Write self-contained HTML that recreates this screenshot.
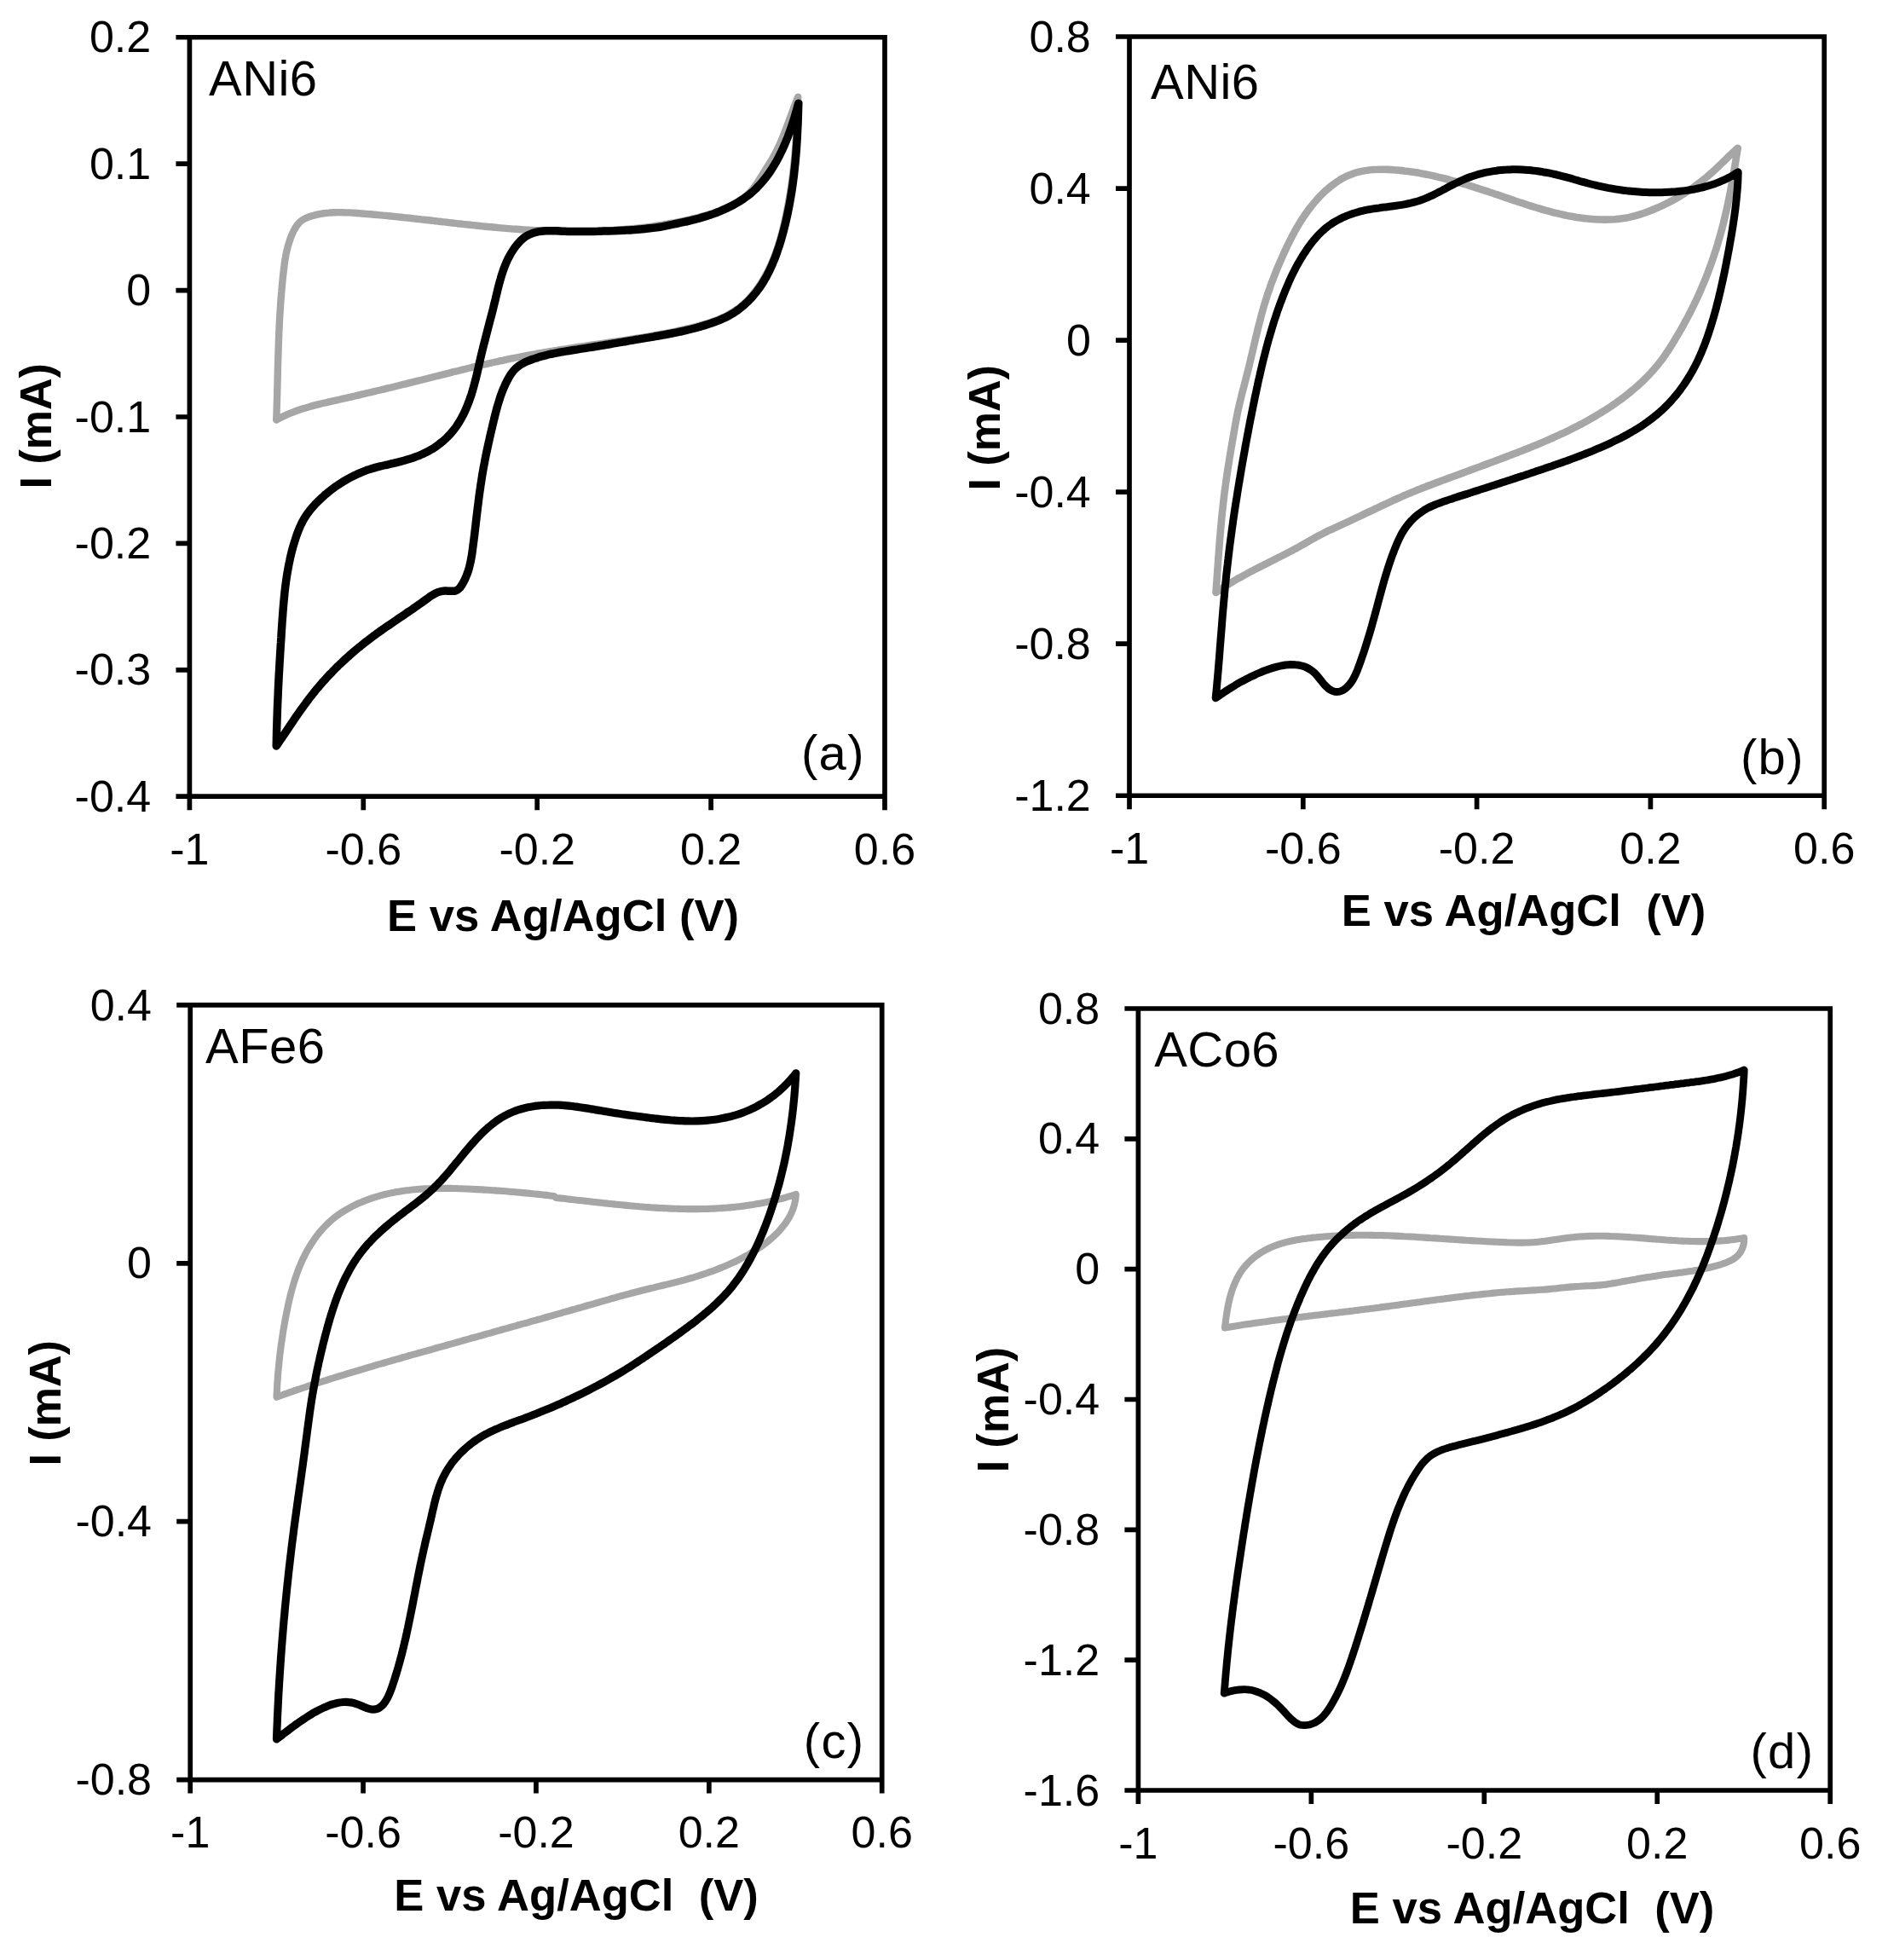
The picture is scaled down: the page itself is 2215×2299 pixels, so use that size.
<!DOCTYPE html>
<html lang="en"><head><meta charset="utf-8"><title>Cyclic voltammograms</title>
<style>html,body{margin:0;padding:0;background:#fff}svg{display:block}text{font-family:"Liberation Sans",Arial,Helvetica,sans-serif;fill:#000}.t{font-size:52px}.n{font-size:58px;letter-spacing:0.45px}.g{font-size:58px;letter-spacing:1.3px}.b{font-size:52px;font-weight:bold}.bx{font-size:52.6px;font-weight:bold}.f{fill:none;stroke:#000;stroke-width:5.7;stroke-linecap:butt}.c{fill:none;stroke-linejoin:round;stroke-linecap:round}</style></head><body>
<svg xmlns="http://www.w3.org/2000/svg" width="2215" height="2299" viewBox="0 0 2215 2299">
<rect width="2215" height="2299" fill="#fff"/>
<g id="panel-a">
<path class="c" stroke="#a6a6a6" stroke-width="8.4" d="M324.2 492.5C324.3 491.5 324.4 488.5 324.5 486.4C324.5 484.4 324.6 482.4 324.6 480.4C324.7 478.4 324.8 476.4 324.8 474.3C324.9 472.3 324.9 470.3 325.0 468.3C325.1 466.3 325.1 464.3 325.2 462.2C325.2 460.2 325.3 458.2 325.3 456.2C325.4 454.2 325.4 452.2 325.5 450.1C325.5 448.1 325.6 446.1 325.6 444.1C325.7 442.1 325.7 440.1 325.8 438.0C325.8 436.0 325.9 434.0 325.9 432.0C326.0 430.0 326.0 427.9 326.1 425.9C326.2 423.9 326.2 421.9 326.3 419.9C326.3 417.9 326.4 415.8 326.5 413.8C326.5 411.8 326.6 409.8 326.7 407.8C326.7 405.8 326.8 403.7 326.9 401.7C326.9 399.7 327.0 397.7 327.1 395.7C327.2 393.7 327.3 391.7 327.3 389.6C327.4 387.6 327.5 385.6 327.6 383.6C327.7 381.6 327.8 379.6 327.9 377.5C328.0 375.5 328.1 373.5 328.2 371.5C328.4 369.5 328.5 367.5 328.6 365.5C328.7 363.5 328.9 361.4 329.0 359.4C329.1 357.4 329.3 355.4 329.4 353.4C329.6 351.4 329.7 349.4 329.9 347.4C330.0 345.3 330.2 343.3 330.4 341.3C330.5 339.3 330.7 337.3 330.9 335.3C331.1 333.3 331.3 331.3 331.5 329.3C331.7 327.2 331.9 325.2 332.1 323.2C332.3 321.2 332.5 319.2 332.8 317.2C333.0 315.2 333.3 313.2 333.5 311.2C333.8 309.2 334.1 307.2 334.4 305.2C334.7 303.2 335.1 301.2 335.4 299.2C335.8 297.2 336.2 295.3 336.7 293.3C337.2 291.3 337.6 289.4 338.2 287.5C338.8 285.5 339.4 283.6 340.0 281.7C340.7 279.7 341.4 277.8 342.2 276.0C343.0 274.1 343.9 272.2 344.8 270.3C345.8 268.5 346.8 266.7 348.0 265.0C349.1 263.4 350.4 261.8 351.8 260.5C353.3 259.1 355.0 258.0 356.7 257.0C358.4 256.0 360.3 255.2 362.2 254.5C364.1 253.8 366.0 253.2 368.0 252.7C369.9 252.1 371.9 251.7 373.8 251.3C375.8 250.9 377.8 250.5 379.8 250.3C381.8 250.0 383.7 249.7 385.7 249.6C387.7 249.4 389.7 249.3 391.8 249.2C393.8 249.1 395.8 249.1 397.8 249.1C399.8 249.1 401.8 249.1 403.9 249.2C405.9 249.2 407.9 249.3 410.0 249.4C412.0 249.5 414.0 249.7 416.0 249.8C418.1 249.9 420.1 250.1 422.1 250.3C424.2 250.4 426.2 250.6 428.2 250.8C430.2 250.9 432.3 251.1 434.3 251.3C436.3 251.5 438.3 251.6 440.3 251.8C442.3 252.0 444.4 252.2 446.4 252.4C448.4 252.6 450.4 252.7 452.4 252.9C454.4 253.1 456.4 253.3 458.4 253.5C460.4 253.7 462.4 253.9 464.4 254.1C466.5 254.3 468.5 254.5 470.5 254.7C472.5 254.9 474.5 255.2 476.5 255.4C478.5 255.6 480.5 255.8 482.5 256.0C484.5 256.2 486.5 256.5 488.5 256.7C490.5 256.9 492.5 257.1 494.5 257.4C496.5 257.6 498.5 257.8 500.5 258.0C502.5 258.3 504.5 258.5 506.5 258.7C508.5 259.0 510.5 259.2 512.5 259.4C514.5 259.6 516.5 259.9 518.5 260.1C520.5 260.3 522.5 260.6 524.5 260.8C526.5 261.0 528.5 261.3 530.5 261.5C532.5 261.7 534.5 261.9 536.5 262.2C538.5 262.4 540.5 262.6 542.5 262.8C544.5 263.1 546.5 263.3 548.5 263.5C550.5 263.7 552.5 263.9 554.5 264.1C556.5 264.4 558.5 264.6 560.5 264.8C562.5 265.0 564.5 265.2 566.5 265.4C568.5 265.6 570.6 265.8 572.6 266.0C574.6 266.2 576.6 266.4 578.6 266.5C580.6 266.7 582.6 266.9 584.6 267.1C586.6 267.3 588.7 267.4 590.7 267.6C592.7 267.8 594.7 267.9 596.7 268.1C598.7 268.3 600.7 268.4 602.8 268.6C604.8 268.7 606.8 268.9 608.8 269.0C610.8 269.1 612.8 269.3 614.9 269.4C616.9 269.5 618.9 269.6 620.9 269.8C622.9 269.9 625.0 270.0 627.0 270.1C629.0 270.2 631.0 270.3 633.0 270.4C635.1 270.5 637.1 270.6 639.1 270.7C641.1 270.7 643.1 270.8 645.2 270.9C647.2 270.9 649.2 271.0 651.2 271.1C653.2 271.1 655.3 271.2 657.3 271.2C659.3 271.3 661.3 271.3 663.4 271.3C665.4 271.3 667.4 271.4 669.4 271.4C671.4 271.4 673.5 271.4 675.5 271.4C677.5 271.4 679.5 271.4 681.5 271.4C683.6 271.3 685.6 271.3 687.6 271.3C689.6 271.2 691.6 271.2 693.6 271.2C695.7 271.1 697.7 271.0 699.7 271.0C701.7 270.9 703.7 270.8 705.7 270.7C707.8 270.7 709.8 270.6 711.8 270.5C713.8 270.4 715.8 270.3 717.8 270.1C719.8 270.0 721.8 269.9 723.9 269.7C725.9 269.6 727.9 269.5 729.9 269.3C731.9 269.1 733.9 269.0 735.9 268.8C737.9 268.6 739.9 268.4 741.9 268.2C743.9 268.0 745.9 267.8 747.9 267.6C749.9 267.4 751.9 267.2 753.9 266.9C755.9 266.7 757.9 266.4 759.9 266.2C761.9 265.9 763.9 265.7 765.9 265.4C767.9 265.1 769.9 264.8 771.9 264.5C773.9 264.2 775.9 263.9 777.9 263.6C779.8 263.2 781.8 262.9 783.8 262.5C785.8 262.2 787.8 261.8 789.8 261.5C791.7 261.1 793.7 260.7 795.7 260.3C797.7 259.9 799.7 259.5 801.6 259.1C803.6 258.7 805.6 258.2 807.5 257.8C809.5 257.3 811.5 256.9 813.5 256.4C815.4 255.9 817.4 255.5 819.3 255.0C821.3 254.5 823.3 253.9 825.2 253.4C827.2 252.9 829.1 252.3 831.0 251.7C833.0 251.1 834.9 250.5 836.8 249.9C838.7 249.2 840.6 248.5 842.5 247.8C844.4 247.1 846.3 246.4 848.1 245.6C850.0 244.8 851.8 244.0 853.7 243.1C855.5 242.3 857.3 241.3 859.1 240.4C860.9 239.4 862.7 238.4 864.4 237.4C866.2 236.3 867.9 235.2 869.6 234.0C871.2 232.9 872.9 231.7 874.4 230.4C876.0 229.1 877.5 227.7 878.9 226.3C880.4 224.9 881.7 223.4 883.0 221.9C884.2 220.3 885.4 218.7 886.6 217.1C887.8 215.4 888.8 213.7 889.9 212.0C891.0 210.4 892.1 208.6 893.2 206.9C894.2 205.2 895.3 203.5 896.4 201.7C897.4 200.0 898.5 198.3 899.6 196.6C900.7 194.9 901.8 193.2 902.8 191.5C903.9 189.7 905.0 188.0 906.0 186.3C907.0 184.5 908.0 182.8 908.9 181.0C909.9 179.2 910.8 177.4 911.7 175.6C912.6 173.8 913.4 172.0 914.3 170.2C915.1 168.3 915.9 166.5 916.7 164.6C917.5 162.8 918.3 160.9 919.0 159.0C919.8 157.2 920.5 155.3 921.2 153.4C922.0 151.5 922.7 149.6 923.4 147.7C924.1 145.8 924.8 143.9 925.5 142.0C926.2 140.1 926.9 138.2 927.6 136.3C928.3 134.5 929.0 132.6 929.7 130.7C930.4 128.8 931.1 126.9 931.8 125.0C932.5 123.1 933.3 121.2 934.0 119.3C934.7 117.5 935.9 114.7 936.2 113.8L936.2 113.8C936.2 114.8 936.1 117.8 936.1 119.8C936.0 121.9 935.9 123.9 935.9 125.9C935.8 128.0 935.7 130.0 935.6 132.0C935.6 134.0 935.5 136.1 935.4 138.1C935.3 140.1 935.2 142.1 935.1 144.1C935.0 146.2 934.9 148.2 934.8 150.2C934.7 152.2 934.5 154.2 934.4 156.2C934.3 158.3 934.2 160.3 934.0 162.3C933.9 164.3 933.7 166.3 933.6 168.3C933.4 170.3 933.3 172.3 933.1 174.3C933.0 176.3 932.8 178.4 932.6 180.4C932.4 182.4 932.2 184.4 932.0 186.4C931.9 188.4 931.7 190.4 931.4 192.4C931.2 194.4 931.0 196.4 930.8 198.4C930.5 200.4 930.3 202.4 930.1 204.4C929.8 206.4 929.6 208.4 929.3 210.4C929.0 212.4 928.8 214.4 928.5 216.4C928.2 218.4 927.9 220.3 927.6 222.3C927.3 224.3 927.0 226.3 926.7 228.3C926.3 230.3 926.0 232.3 925.6 234.3C925.3 236.3 924.9 238.3 924.6 240.3C924.2 242.3 923.8 244.3 923.4 246.2C923.0 248.2 922.6 250.2 922.2 252.2C921.8 254.2 921.4 256.2 920.9 258.2C920.5 260.2 920.0 262.2 919.6 264.1C919.1 266.1 918.6 268.1 918.1 270.1C917.6 272.1 917.1 274.0 916.6 276.0C916.0 278.0 915.5 279.9 914.9 281.9C914.3 283.8 913.7 285.8 913.1 287.7C912.5 289.6 911.8 291.6 911.2 293.5C910.5 295.4 909.8 297.3 909.1 299.2C908.4 301.1 907.7 302.9 906.9 304.8C906.1 306.7 905.3 308.5 904.5 310.4C903.7 312.2 902.8 314.0 902.0 315.8C901.1 317.6 900.2 319.4 899.2 321.2C898.3 323.0 897.3 324.7 896.3 326.5C895.3 328.2 894.2 329.9 893.2 331.6C892.1 333.3 891.0 335.0 889.8 336.6C888.7 338.3 887.5 339.9 886.3 341.5C885.0 343.1 883.8 344.7 882.5 346.3C881.2 347.8 879.8 349.3 878.4 350.8C877.0 352.3 875.6 353.7 874.1 355.1C872.6 356.5 871.1 357.8 869.5 359.1C868.0 360.4 866.4 361.6 864.7 362.8C863.0 364.0 861.4 365.1 859.6 366.1C857.9 367.2 856.2 368.2 854.4 369.1C852.6 370.1 850.8 371.0 849.0 371.9C847.1 372.7 845.3 373.5 843.4 374.3C841.6 375.1 839.7 375.8 837.8 376.5C835.9 377.2 834.0 377.9 832.1 378.5C830.2 379.1 828.2 379.7 826.3 380.3C824.3 380.9 822.4 381.5 820.4 382.0C818.5 382.5 816.5 383.0 814.5 383.5C812.6 384.0 810.6 384.5 808.6 385.0C806.6 385.5 804.7 385.9 802.7 386.4C800.7 386.8 798.7 387.3 796.8 387.7C794.8 388.1 792.8 388.6 790.8 389.0C788.8 389.4 786.9 389.8 784.9 390.2C782.9 390.6 780.9 391.0 778.9 391.3C776.9 391.7 775.0 392.1 773.0 392.4C771.0 392.8 769.0 393.2 767.0 393.5C765.0 393.9 763.0 394.2 761.0 394.5C759.0 394.9 757.0 395.2 755.1 395.5C753.1 395.9 751.1 396.2 749.1 396.5C747.1 396.8 745.1 397.1 743.1 397.4C741.1 397.7 739.1 398.1 737.1 398.4C735.1 398.7 733.1 399.0 731.1 399.3C729.1 399.6 727.1 399.8 725.1 400.1C723.1 400.4 721.1 400.7 719.1 401.0C717.1 401.3 715.1 401.6 713.1 401.9C711.1 402.2 709.1 402.5 707.1 402.8C705.1 403.1 703.1 403.4 701.1 403.6C699.1 403.9 697.1 404.2 695.1 404.5C693.1 404.8 691.1 405.1 689.1 405.4C687.1 405.7 685.1 406.0 683.1 406.3C681.1 406.6 679.1 406.9 677.1 407.2C675.1 407.5 673.1 407.8 671.1 408.1C669.1 408.4 667.1 408.8 665.2 409.1C663.2 409.4 661.2 409.7 659.2 410.0C657.2 410.3 655.2 410.6 653.2 411.0C651.2 411.3 649.2 411.6 647.2 412.0C645.2 412.3 643.2 412.6 641.2 413.0C639.2 413.3 637.2 413.6 635.2 414.0C633.2 414.3 631.3 414.7 629.3 415.0C627.3 415.4 625.3 415.7 623.3 416.1C621.3 416.5 619.3 416.8 617.3 417.2C615.4 417.6 613.4 418.0 611.4 418.3C609.4 418.7 607.4 419.1 605.4 419.5C603.4 419.9 601.5 420.3 599.5 420.7C597.5 421.1 595.5 421.5 593.6 421.9C591.6 422.3 589.6 422.8 587.6 423.2C585.6 423.6 583.7 424.1 581.7 424.5C579.7 424.9 577.7 425.4 575.8 425.8C573.8 426.3 571.8 426.7 569.9 427.2C567.9 427.6 565.9 428.1 564.0 428.5C562.0 429.0 560.0 429.5 558.1 429.9C556.1 430.4 554.1 430.9 552.2 431.3C550.2 431.8 548.2 432.3 546.3 432.8C544.3 433.2 542.3 433.7 540.4 434.2C538.4 434.7 536.4 435.2 534.5 435.7C532.5 436.1 530.5 436.6 528.6 437.1C526.6 437.6 524.7 438.1 522.7 438.6C520.7 439.1 518.8 439.6 516.8 440.1C514.9 440.6 512.9 441.1 510.9 441.5C509.0 442.0 507.0 442.5 505.1 443.0C503.1 443.5 501.1 444.0 499.2 444.5C497.2 445.0 495.3 445.5 493.3 446.0C491.3 446.5 489.4 446.9 487.4 447.4C485.5 447.9 483.5 448.4 481.5 448.9C479.6 449.4 477.6 449.9 475.7 450.4C473.7 450.8 471.7 451.3 469.8 451.8C467.8 452.3 465.9 452.8 463.9 453.2C461.9 453.7 460.0 454.2 458.0 454.7C456.1 455.2 454.1 455.6 452.1 456.1C450.2 456.6 448.2 457.1 446.2 457.5C444.3 458.0 442.3 458.5 440.3 458.9C438.4 459.4 436.4 459.9 434.4 460.3C432.5 460.8 430.5 461.3 428.5 461.7C426.6 462.2 424.6 462.6 422.6 463.1C420.7 463.6 418.7 464.0 416.7 464.5C414.7 464.9 412.8 465.4 410.8 465.8C408.8 466.3 406.8 466.7 404.9 467.2C402.9 467.6 400.9 468.0 398.9 468.5C397.0 468.9 395.0 469.4 393.0 469.8C391.0 470.2 389.0 470.7 387.1 471.1C385.1 471.6 383.1 472.0 381.1 472.5C379.2 473.0 377.2 473.4 375.2 473.9C373.3 474.4 371.3 474.9 369.3 475.4C367.4 475.9 365.4 476.4 363.5 477.0C361.5 477.5 359.6 478.1 357.7 478.7C355.8 479.3 353.8 479.9 351.9 480.5C350.0 481.1 348.1 481.8 346.2 482.5C344.4 483.2 342.5 483.9 340.6 484.7C338.8 485.4 336.9 486.2 335.1 487.1C333.2 487.9 331.4 488.8 329.6 489.7C327.8 490.6 325.1 492.0 324.2 492.5Z"/>
<path class="c" stroke="#000" stroke-width="9.5" d="M324.2 875.0C324.3 874.0 324.3 871.0 324.4 868.9C324.4 866.9 324.4 864.9 324.5 862.9C324.5 860.8 324.6 858.8 324.6 856.8C324.7 854.8 324.7 852.8 324.8 850.8C324.9 848.7 324.9 846.7 325.0 844.7C325.0 842.7 325.1 840.7 325.2 838.7C325.3 836.6 325.3 834.6 325.4 832.6C325.5 830.6 325.6 828.6 325.6 826.6C325.7 824.6 325.8 822.5 325.9 820.5C326.0 818.5 326.1 816.5 326.2 814.5C326.2 812.5 326.3 810.5 326.4 808.4C326.5 806.4 326.6 804.4 326.7 802.4C326.8 800.4 326.9 798.4 327.0 796.4C327.1 794.4 327.2 792.3 327.3 790.3C327.5 788.3 327.6 786.3 327.7 784.3C327.8 782.3 327.9 780.3 328.0 778.3C328.1 776.2 328.2 774.2 328.4 772.2C328.5 770.2 328.6 768.2 328.7 766.2C328.8 764.2 329.0 762.2 329.1 760.1C329.2 758.1 329.3 756.1 329.5 754.1C329.6 752.1 329.7 750.1 329.9 748.1C330.0 746.0 330.1 744.0 330.2 742.0C330.4 740.0 330.5 738.0 330.6 736.0C330.8 733.9 330.9 731.9 331.0 729.9C331.2 727.9 331.3 725.9 331.5 723.8C331.6 721.8 331.8 719.8 331.9 717.8C332.1 715.8 332.2 713.8 332.4 711.7C332.6 709.7 332.7 707.7 332.9 705.7C333.1 703.7 333.3 701.7 333.5 699.7C333.7 697.6 333.9 695.6 334.1 693.6C334.4 691.6 334.6 689.6 334.8 687.6C335.1 685.6 335.4 683.6 335.6 681.6C335.9 679.6 336.2 677.6 336.5 675.6C336.8 673.6 337.1 671.7 337.5 669.7C337.8 667.7 338.2 665.7 338.6 663.7C338.9 661.8 339.3 659.8 339.8 657.8C340.2 655.8 340.6 653.9 341.1 651.9C341.5 650.0 342.0 648.0 342.5 646.0C343.0 644.1 343.6 642.1 344.1 640.2C344.7 638.3 345.3 636.3 345.9 634.4C346.5 632.5 347.1 630.5 347.8 628.6C348.4 626.7 349.1 624.8 349.9 622.9C350.6 621.0 351.4 619.2 352.2 617.3C353.1 615.5 353.9 613.7 354.9 611.9C355.8 610.1 356.8 608.4 357.9 606.7C359.0 605.0 360.1 603.3 361.3 601.7C362.5 600.0 363.7 598.4 365.0 596.9C366.3 595.3 367.7 593.8 369.0 592.3C370.4 590.8 371.8 589.4 373.3 587.9C374.7 586.5 376.2 585.1 377.7 583.7C379.2 582.4 380.7 581.0 382.2 579.7C383.8 578.4 385.4 577.1 386.9 575.9C388.5 574.6 390.1 573.4 391.8 572.2C393.4 571.0 395.1 569.9 396.7 568.7C398.4 567.6 400.1 566.5 401.8 565.4C403.5 564.4 405.3 563.3 407.0 562.3C408.8 561.3 410.5 560.4 412.3 559.4C414.1 558.5 415.9 557.6 417.8 556.8C419.6 555.9 421.4 555.1 423.3 554.3C425.1 553.5 427.0 552.8 428.9 552.1C430.8 551.4 432.7 550.8 434.6 550.1C436.6 549.5 438.5 549.0 440.4 548.4C442.4 547.9 444.3 547.4 446.3 546.9C448.3 546.5 450.2 546.0 452.2 545.5C454.2 545.1 456.2 544.6 458.1 544.2C460.1 543.7 462.1 543.3 464.0 542.8C466.0 542.3 468.0 541.8 469.9 541.3C471.9 540.8 473.8 540.3 475.8 539.7C477.7 539.2 479.6 538.6 481.5 538.0C483.5 537.4 485.4 536.7 487.3 536.0C489.1 535.3 491.0 534.6 492.9 533.8C494.7 533.0 496.6 532.2 498.4 531.3C500.2 530.4 502.0 529.5 503.8 528.5C505.5 527.5 507.3 526.5 509.0 525.4C510.7 524.3 512.4 523.1 514.0 521.9C515.7 520.7 517.3 519.5 518.8 518.2C520.4 516.9 521.9 515.5 523.4 514.1C524.8 512.8 526.2 511.3 527.6 509.8C529.0 508.4 530.3 506.8 531.5 505.3C532.8 503.7 534.0 502.1 535.2 500.5C536.3 498.8 537.4 497.1 538.5 495.4C539.5 493.7 540.5 492.0 541.5 490.2C542.5 488.5 543.4 486.7 544.3 484.9C545.2 483.0 546.0 481.2 546.8 479.3C547.6 477.5 548.4 475.6 549.1 473.7C549.9 471.8 550.6 469.9 551.2 468.0C551.9 466.1 552.5 464.2 553.2 462.3C553.8 460.3 554.4 458.4 554.9 456.5C555.5 454.5 556.0 452.6 556.5 450.6C557.1 448.7 557.6 446.7 558.1 444.7C558.5 442.8 559.0 440.8 559.5 438.8C560.0 436.9 560.4 434.9 560.9 432.9C561.3 430.9 561.8 429.0 562.2 427.0C562.7 425.0 563.1 423.0 563.5 421.1C564.0 419.1 564.4 417.2 564.9 415.2C565.4 413.2 565.8 411.3 566.3 409.3C566.8 407.4 567.3 405.4 567.8 403.5C568.3 401.5 568.8 399.6 569.3 397.7C569.8 395.7 570.3 393.8 570.8 391.8C571.3 389.9 571.8 388.0 572.3 386.0C572.8 384.1 573.3 382.1 573.8 380.2C574.3 378.3 574.8 376.3 575.3 374.4C575.9 372.4 576.4 370.5 576.9 368.5C577.4 366.6 577.9 364.6 578.4 362.7C578.9 360.7 579.3 358.7 579.8 356.8C580.3 354.8 580.8 352.8 581.3 350.8C581.7 348.8 582.2 346.8 582.7 344.9C583.2 342.9 583.6 340.9 584.1 338.9C584.6 336.9 585.1 334.9 585.6 333.0C586.2 331.0 586.7 329.0 587.3 327.1C587.8 325.1 588.4 323.2 589.0 321.3C589.7 319.3 590.3 317.4 591.0 315.5C591.7 313.6 592.4 311.8 593.2 309.9C593.9 308.1 594.8 306.2 595.6 304.4C596.5 302.6 597.4 300.9 598.4 299.1C599.4 297.4 600.4 295.7 601.5 294.0C602.6 292.3 603.7 290.6 605.0 289.0C606.2 287.4 607.5 285.8 608.9 284.4C610.2 282.9 611.7 281.5 613.2 280.2C614.7 278.9 616.3 277.7 618.0 276.7C619.7 275.7 621.5 274.8 623.4 274.1C625.2 273.3 627.2 272.8 629.1 272.3C631.1 271.8 633.1 271.5 635.1 271.3C637.1 271.0 639.1 270.9 641.1 270.8C643.2 270.7 645.2 270.7 647.3 270.7C649.3 270.7 651.4 270.8 653.4 270.8C655.5 270.9 657.6 271.1 659.6 271.2C661.7 271.2 663.7 271.4 665.8 271.4C667.8 271.5 669.8 271.5 671.8 271.6C673.8 271.6 675.8 271.6 677.8 271.6C679.8 271.6 681.8 271.6 683.8 271.6C685.8 271.6 687.8 271.5 689.8 271.5C691.8 271.5 693.8 271.4 695.8 271.4C697.8 271.3 699.8 271.3 701.8 271.3C703.8 271.2 705.9 271.2 707.9 271.1C709.9 271.1 711.9 271.0 713.9 271.0C715.9 270.9 718.0 270.8 720.0 270.8C722.0 270.7 724.0 270.6 726.0 270.5C728.1 270.4 730.1 270.3 732.1 270.2C734.1 270.1 736.2 270.0 738.2 269.9C740.2 269.8 742.2 269.6 744.2 269.5C746.3 269.3 748.3 269.2 750.3 269.0C752.3 268.8 754.3 268.7 756.3 268.5C758.3 268.3 760.3 268.1 762.3 267.8C764.3 267.6 766.3 267.4 768.3 267.1C770.3 266.8 772.3 266.5 774.3 266.2C776.3 265.9 778.3 265.5 780.3 265.1C782.2 264.7 784.2 264.3 786.2 263.9C788.1 263.5 790.1 263.1 792.1 262.7C794.0 262.3 796.0 261.9 797.9 261.4C799.9 261.0 801.8 260.6 803.7 260.2C805.7 259.7 807.6 259.3 809.6 258.8C811.5 258.4 813.5 257.9 815.4 257.4C817.4 256.9 819.4 256.3 821.3 255.8C823.3 255.2 825.2 254.6 827.2 254.0C829.1 253.4 831.1 252.8 833.0 252.1C835.0 251.5 836.9 250.8 838.8 250.1C840.7 249.4 842.6 248.6 844.5 247.9C846.4 247.1 848.3 246.3 850.2 245.4C852.0 244.6 853.9 243.7 855.7 242.8C857.5 241.9 859.3 241.0 861.1 240.0C862.9 239.1 864.6 238.1 866.4 237.0C868.1 236.0 869.8 234.9 871.5 233.8C873.1 232.7 874.7 231.5 876.3 230.3C877.9 229.1 879.5 227.9 881.0 226.6C882.5 225.3 884.0 224.0 885.5 222.6C886.9 221.3 888.3 219.8 889.7 218.4C891.1 217.0 892.4 215.5 893.7 214.0C895.0 212.5 896.3 211.0 897.5 209.4C898.8 207.8 900.0 206.2 901.2 204.6C902.3 203.0 903.5 201.3 904.6 199.6C905.7 197.9 906.8 196.2 907.8 194.5C908.9 192.8 909.9 191.0 910.9 189.3C911.9 187.5 912.9 185.7 913.8 183.9C914.7 182.1 915.7 180.2 916.5 178.4C917.4 176.6 918.3 174.7 919.1 172.8C920.0 171.0 920.8 169.1 921.6 167.2C922.4 165.3 923.1 163.4 923.9 161.5C924.6 159.6 925.3 157.6 926.1 155.7C926.8 153.8 927.4 151.9 928.1 150.0C928.8 148.0 929.4 146.1 930.0 144.2C930.7 142.2 931.3 140.3 931.9 138.4C932.4 136.5 933.0 134.6 933.6 132.6C934.1 130.7 934.7 128.8 935.2 126.9C935.7 125.0 936.5 122.2 936.8 121.2L936.8 121.2C936.7 122.3 936.7 125.3 936.6 127.3C936.5 129.3 936.5 131.4 936.4 133.4C936.4 135.4 936.3 137.4 936.2 139.5C936.2 141.5 936.1 143.5 936.0 145.5C935.9 147.6 935.8 149.6 935.7 151.6C935.6 153.6 935.5 155.6 935.4 157.7C935.3 159.7 935.2 161.7 935.1 163.7C935.0 165.7 934.8 167.8 934.7 169.8C934.6 171.8 934.4 173.8 934.3 175.8C934.1 177.8 934.0 179.9 933.8 181.9C933.6 183.9 933.4 185.9 933.3 187.9C933.1 189.9 932.9 191.9 932.7 193.9C932.5 195.9 932.3 198.0 932.0 200.0C931.8 202.0 931.6 204.0 931.4 206.0C931.1 208.0 930.9 210.0 930.6 212.0C930.3 214.0 930.1 216.0 929.8 218.0C929.5 220.0 929.2 222.0 928.9 224.0C928.6 226.0 928.3 227.9 927.9 229.9C927.6 231.9 927.3 233.9 926.9 235.9C926.6 237.9 926.2 239.9 925.8 241.9C925.4 243.8 925.0 245.8 924.6 247.8C924.2 249.8 923.8 251.8 923.4 253.7C922.9 255.7 922.5 257.7 922.0 259.7C921.6 261.6 921.1 263.6 920.6 265.6C920.1 267.5 919.6 269.5 919.1 271.5C918.6 273.4 918.0 275.4 917.5 277.3C916.9 279.3 916.4 281.3 915.8 283.2C915.2 285.2 914.6 287.1 914.0 289.0C913.3 291.0 912.7 292.9 912.0 294.8C911.4 296.8 910.7 298.7 910.0 300.6C909.2 302.5 908.5 304.4 907.7 306.2C907.0 308.1 906.2 310.0 905.4 311.8C904.5 313.7 903.7 315.5 902.8 317.3C901.9 319.2 901.0 320.9 900.1 322.7C899.1 324.5 898.2 326.3 897.1 328.0C896.1 329.7 895.1 331.4 894.0 333.1C892.9 334.8 891.8 336.5 890.6 338.1C889.4 339.8 888.2 341.4 887.0 343.0C885.7 344.5 884.4 346.1 883.1 347.6C881.8 349.1 880.4 350.6 879.0 352.1C877.6 353.5 876.1 354.9 874.6 356.3C873.1 357.7 871.6 359.0 870.0 360.3C868.5 361.5 866.9 362.8 865.2 364.0C863.6 365.1 861.9 366.3 860.2 367.4C858.5 368.4 856.7 369.5 854.9 370.4C853.2 371.4 851.3 372.3 849.5 373.1C847.7 374.0 845.8 374.8 843.9 375.6C842.0 376.3 840.1 377.1 838.2 377.8C836.3 378.5 834.4 379.1 832.4 379.8C830.5 380.4 828.6 381.0 826.7 381.6C824.7 382.2 822.8 382.8 820.8 383.4C818.9 383.9 816.9 384.5 815.0 385.0C813.0 385.5 811.1 386.0 809.1 386.5C807.1 387.0 805.2 387.4 803.2 387.9C801.2 388.3 799.3 388.8 797.3 389.2C795.3 389.6 793.4 390.0 791.4 390.4C789.4 390.8 787.4 391.2 785.4 391.6C783.4 392.0 781.5 392.4 779.5 392.7C777.5 393.1 775.5 393.4 773.5 393.8C771.5 394.1 769.5 394.5 767.5 394.8C765.5 395.2 763.5 395.5 761.6 395.9C759.6 396.2 757.6 396.5 755.6 396.9C753.6 397.2 751.6 397.5 749.6 397.9C747.6 398.2 745.6 398.5 743.6 398.9C741.6 399.2 739.6 399.6 737.6 399.9C735.6 400.2 733.6 400.6 731.7 400.9C729.7 401.3 727.7 401.6 725.7 401.9C723.7 402.3 721.7 402.6 719.7 402.9C717.7 403.3 715.7 403.6 713.7 404.0C711.7 404.3 709.7 404.6 707.7 405.0C705.7 405.3 703.7 405.6 701.7 406.0C699.7 406.3 697.7 406.6 695.7 407.0C693.8 407.3 691.8 407.6 689.8 407.9C687.8 408.3 685.8 408.6 683.8 408.9C681.8 409.2 679.8 409.5 677.8 409.9C675.8 410.2 673.8 410.5 671.8 410.8C669.8 411.1 667.8 411.4 665.8 411.7C663.8 412.1 661.8 412.4 659.8 412.7C657.8 413.1 655.8 413.4 653.8 413.8C651.8 414.2 649.9 414.6 647.9 415.0C645.9 415.4 643.9 415.9 642.0 416.3C640.0 416.8 638.1 417.3 636.1 417.8C634.2 418.4 632.2 418.9 630.3 419.6C628.4 420.2 626.4 420.8 624.5 421.5C622.6 422.2 620.7 422.9 618.8 423.7C617.0 424.5 615.1 425.4 613.3 426.4C611.6 427.3 609.8 428.4 608.2 429.5C606.6 430.7 605.1 432.0 603.7 433.5C602.3 434.9 601.1 436.5 599.9 438.2C598.8 439.9 597.7 441.7 596.7 443.4C595.7 445.2 594.7 447.1 593.8 448.9C592.9 450.7 592.1 452.6 591.3 454.4C590.5 456.3 589.7 458.1 589.0 460.0C588.3 461.9 587.6 463.8 586.9 465.7C586.3 467.6 585.7 469.5 585.1 471.5C584.5 473.4 583.9 475.3 583.4 477.3C582.8 479.2 582.3 481.1 581.8 483.1C581.3 485.0 580.8 487.0 580.3 489.0C579.8 490.9 579.4 492.9 578.9 494.9C578.4 496.8 577.9 498.8 577.5 500.8C577.0 502.8 576.6 504.7 576.1 506.7C575.6 508.7 575.2 510.7 574.7 512.6C574.3 514.6 573.9 516.6 573.4 518.6C573.0 520.5 572.5 522.5 572.1 524.5C571.7 526.5 571.3 528.5 570.8 530.5C570.4 532.4 570.0 534.4 569.6 536.4C569.2 538.4 568.8 540.4 568.5 542.4C568.1 544.4 567.7 546.3 567.3 548.3C567.0 550.3 566.6 552.3 566.3 554.3C565.9 556.3 565.6 558.3 565.3 560.3C565.0 562.3 564.7 564.2 564.4 566.2C564.0 568.2 563.8 570.2 563.5 572.2C563.2 574.2 562.9 576.2 562.6 578.2C562.4 580.2 562.1 582.2 561.8 584.2C561.6 586.2 561.3 588.2 561.1 590.2C560.8 592.2 560.6 594.2 560.3 596.2C560.1 598.2 559.9 600.2 559.6 602.2C559.4 604.2 559.1 606.2 558.9 608.2C558.7 610.2 558.4 612.2 558.2 614.2C558.0 616.2 557.7 618.3 557.5 620.3C557.2 622.3 557.0 624.3 556.8 626.3C556.5 628.3 556.3 630.4 556.0 632.4C555.8 634.4 555.5 636.4 555.2 638.5C555.0 640.5 554.7 642.5 554.4 644.6C554.2 646.6 553.9 648.6 553.6 650.6C553.2 652.7 552.9 654.7 552.5 656.7C552.1 658.7 551.7 660.7 551.2 662.6C550.8 664.6 550.2 666.6 549.7 668.5C549.1 670.4 548.4 672.3 547.7 674.2C547.0 676.1 546.2 677.9 545.4 679.7C544.5 681.5 543.6 683.3 542.5 685.1C541.4 686.8 540.4 688.6 539.0 690.0C537.7 691.3 536.2 692.4 534.4 693.0C532.7 693.6 530.5 693.3 528.5 693.3C526.4 693.3 524.1 692.9 522.0 693.0C519.9 693.1 517.9 693.4 515.9 694.0C514.0 694.5 512.1 695.3 510.3 696.2C508.5 697.1 506.9 698.2 505.2 699.3C503.5 700.4 501.9 701.7 500.2 702.9C498.6 704.1 497.0 705.3 495.3 706.5C493.7 707.7 492.0 708.8 490.3 710.0C488.7 711.2 487.0 712.3 485.3 713.5C483.7 714.6 482.0 715.8 480.3 716.9C478.7 718.1 477.0 719.2 475.3 720.3C473.6 721.5 472.0 722.6 470.3 723.7C468.6 724.9 466.9 726.0 465.3 727.1C463.6 728.3 461.9 729.4 460.2 730.6C458.6 731.7 456.9 732.8 455.2 734.0C453.6 735.1 451.9 736.3 450.3 737.4C448.6 738.6 446.9 739.7 445.3 740.9C443.7 742.1 442.0 743.3 440.4 744.5C438.7 745.6 437.1 746.8 435.5 748.1C433.9 749.3 432.3 750.5 430.7 751.7C429.1 753.0 427.5 754.2 425.9 755.5C424.3 756.7 422.7 758.0 421.2 759.3C419.6 760.5 418.1 761.8 416.5 763.1C415.0 764.4 413.4 765.8 411.9 767.1C410.4 768.4 408.9 769.8 407.4 771.1C405.9 772.5 404.4 773.8 402.9 775.2C401.4 776.6 399.9 778.0 398.5 779.4C397.0 780.8 395.6 782.2 394.1 783.6C392.7 785.0 391.3 786.5 389.9 787.9C388.5 789.4 387.1 790.8 385.7 792.3C384.3 793.8 382.9 795.3 381.6 796.8C380.2 798.2 378.9 799.8 377.5 801.3C376.2 802.8 374.9 804.3 373.6 805.9C372.3 807.4 371.0 809.0 369.7 810.6C368.4 812.1 367.2 813.7 365.9 815.3C364.7 816.9 363.4 818.5 362.2 820.1C361.0 821.7 359.8 823.3 358.6 825.0C357.4 826.6 356.2 828.2 355.0 829.9C353.8 831.5 352.6 833.2 351.5 834.8C350.3 836.5 349.1 838.1 348.0 839.8C346.8 841.5 345.7 843.1 344.5 844.8C343.4 846.5 342.3 848.2 341.1 849.8C340.0 851.5 338.9 853.2 337.7 854.9C336.6 856.5 335.5 858.2 334.4 859.9C333.2 861.6 332.1 863.3 331.0 865.0C329.9 866.6 328.7 868.3 327.6 870.0C326.5 871.7 324.8 874.2 324.2 875.0Z"/>
<path class="f" d="M206.40 43.75 H1040.85M1038.00 43.75 V950.20M206.40 934.20 H1038.00M222.40 43.75 V950.20M206.40 192.16 H222.40M206.40 340.57 H222.40M206.40 488.98 H222.40M206.40 637.38 H222.40M206.40 785.79 H222.40M426.30 934.20 V950.20M630.20 934.20 V950.20M834.10 934.20 V950.20"/>
<text class="t" text-anchor="end" x="177.2" y="61.4">0.2</text>
<text class="t" text-anchor="end" x="177.2" y="209.8">0.1</text>
<text class="t" text-anchor="end" x="177.2" y="358.2">0</text>
<text class="t" text-anchor="end" x="177.2" y="506.6">-0.1</text>
<text class="t" text-anchor="end" x="177.2" y="655.0">-0.2</text>
<text class="t" text-anchor="end" x="177.2" y="803.4">-0.3</text>
<text class="t" text-anchor="end" x="177.2" y="951.8">-0.4</text>
<text class="t" text-anchor="middle" x="222.4" y="1013.7">-1</text>
<text class="t" text-anchor="middle" x="426.3" y="1013.7">-0.6</text>
<text class="t" text-anchor="middle" x="630.2" y="1013.7">-0.2</text>
<text class="t" text-anchor="middle" x="834.1" y="1013.7">0.2</text>
<text class="t" text-anchor="middle" x="1038.0" y="1013.7">0.6</text>
<text class="n" x="245.0" y="111.8">ANi6</text>
<text class="g" x="940.0" y="903.0">(a)</text>
<text class="bx" x="454.0" y="1092.0" style="white-space:pre">E vs Ag/AgCl (V)</text>
<text class="b" transform="translate(60.0 573.5) rotate(-90)">I (mA)</text>
</g>
<g id="panel-b">
<path class="c" stroke="#a6a6a6" stroke-width="8.6" d="M1426.5 695.0C1426.6 694.0 1426.8 691.0 1426.9 688.9C1427.1 686.9 1427.2 684.9 1427.4 682.9C1427.5 680.9 1427.7 678.9 1427.8 676.8C1428.0 674.8 1428.1 672.8 1428.2 670.8C1428.4 668.8 1428.5 666.7 1428.7 664.7C1428.8 662.7 1429.0 660.7 1429.1 658.7C1429.3 656.6 1429.4 654.6 1429.5 652.6C1429.7 650.6 1429.8 648.6 1430.0 646.6C1430.2 644.5 1430.3 642.5 1430.5 640.5C1430.6 638.5 1430.8 636.5 1430.9 634.5C1431.1 632.4 1431.3 630.4 1431.4 628.4C1431.6 626.4 1431.8 624.4 1431.9 622.4C1432.1 620.3 1432.3 618.3 1432.5 616.3C1432.7 614.3 1432.9 612.3 1433.0 610.3C1433.2 608.2 1433.4 606.2 1433.6 604.2C1433.8 602.2 1434.0 600.2 1434.3 598.2C1434.5 596.2 1434.7 594.2 1434.9 592.2C1435.1 590.1 1435.4 588.1 1435.6 586.1C1435.8 584.1 1436.1 582.1 1436.3 580.1C1436.6 578.1 1436.8 576.1 1437.1 574.1C1437.4 572.1 1437.6 570.1 1437.9 568.1C1438.2 566.1 1438.5 564.0 1438.8 562.0C1439.0 560.0 1439.3 558.0 1439.6 556.0C1439.9 554.0 1440.2 552.0 1440.5 550.0C1440.8 548.0 1441.2 546.0 1441.5 544.0C1441.8 542.0 1442.1 540.0 1442.4 538.0C1442.8 536.0 1443.1 534.0 1443.4 532.0C1443.7 530.0 1444.1 528.0 1444.4 526.0C1444.8 524.0 1445.1 522.1 1445.4 520.1C1445.8 518.1 1446.1 516.1 1446.5 514.1C1446.8 512.1 1447.2 510.1 1447.5 508.1C1447.9 506.1 1448.2 504.1 1448.6 502.1C1448.9 500.1 1449.3 498.1 1449.6 496.1C1450.0 494.2 1450.4 492.2 1450.7 490.2C1451.1 488.2 1451.5 486.2 1451.9 484.2C1452.3 482.2 1452.7 480.3 1453.2 478.3C1453.6 476.3 1454.1 474.4 1454.5 472.4C1455.0 470.4 1455.5 468.5 1456.0 466.5C1456.4 464.5 1456.9 462.6 1457.4 460.6C1457.9 458.6 1458.4 456.7 1459.0 454.7C1459.5 452.8 1460.0 450.8 1460.5 448.9C1461.0 446.9 1461.5 444.9 1462.0 443.0C1462.5 441.0 1463.0 439.1 1463.5 437.1C1464.0 435.1 1464.5 433.2 1465.0 431.2C1465.5 429.2 1465.9 427.3 1466.4 425.3C1466.9 423.3 1467.3 421.4 1467.8 419.4C1468.3 417.4 1468.7 415.4 1469.2 413.5C1469.7 411.5 1470.1 409.5 1470.6 407.6C1471.0 405.6 1471.5 403.6 1472.0 401.7C1472.4 399.7 1472.9 397.7 1473.3 395.7C1473.8 393.8 1474.3 391.8 1474.8 389.8C1475.2 387.9 1475.7 385.9 1476.2 383.9C1476.7 382.0 1477.2 380.0 1477.7 378.1C1478.2 376.1 1478.7 374.1 1479.2 372.2C1479.7 370.2 1480.2 368.3 1480.8 366.3C1481.3 364.4 1481.9 362.4 1482.4 360.5C1483.0 358.6 1483.6 356.6 1484.2 354.7C1484.7 352.7 1485.3 350.8 1486.0 348.9C1486.6 347.0 1487.2 345.0 1487.9 343.1C1488.5 341.2 1489.2 339.3 1489.9 337.4C1490.5 335.4 1491.2 333.5 1491.9 331.6C1492.6 329.7 1493.4 327.8 1494.1 325.9C1494.8 324.1 1495.6 322.2 1496.3 320.3C1497.1 318.4 1497.9 316.5 1498.6 314.6C1499.4 312.8 1500.2 310.9 1501.0 309.0C1501.8 307.2 1502.6 305.3 1503.4 303.5C1504.2 301.6 1505.1 299.8 1505.9 297.9C1506.7 296.1 1507.6 294.2 1508.4 292.4C1509.3 290.6 1510.1 288.7 1511.0 286.9C1511.9 285.1 1512.8 283.3 1513.7 281.5C1514.6 279.7 1515.5 277.9 1516.4 276.1C1517.4 274.4 1518.3 272.6 1519.3 270.8C1520.3 269.1 1521.3 267.3 1522.3 265.6C1523.3 263.9 1524.4 262.1 1525.4 260.4C1526.5 258.7 1527.6 257.0 1528.7 255.3C1529.8 253.7 1531.0 252.0 1532.1 250.3C1533.3 248.7 1534.5 247.0 1535.7 245.4C1537.0 243.8 1538.2 242.2 1539.5 240.6C1540.8 239.0 1542.1 237.4 1543.5 235.9C1544.8 234.3 1546.2 232.8 1547.6 231.3C1549.0 229.8 1550.5 228.3 1552.0 226.8C1553.4 225.4 1554.9 224.0 1556.5 222.6C1558.0 221.3 1559.6 219.9 1561.2 218.6C1562.8 217.4 1564.4 216.1 1566.1 214.9C1567.7 213.8 1569.4 212.6 1571.1 211.6C1572.8 210.5 1574.6 209.5 1576.3 208.5C1578.1 207.6 1579.9 206.7 1581.7 205.9C1583.5 205.1 1585.4 204.4 1587.2 203.7C1589.1 203.0 1591.0 202.4 1592.9 201.9C1594.9 201.4 1596.8 201.0 1598.8 200.6C1600.7 200.2 1602.7 199.9 1604.7 199.7C1606.7 199.4 1608.7 199.2 1610.7 199.0C1612.8 198.9 1614.8 198.8 1616.8 198.8C1618.9 198.7 1620.9 198.7 1623.0 198.7C1625.0 198.7 1627.1 198.8 1629.1 198.9C1631.2 199.0 1633.2 199.1 1635.3 199.3C1637.3 199.4 1639.4 199.6 1641.4 199.8C1643.4 200.0 1645.5 200.2 1647.5 200.5C1649.5 200.7 1651.5 201.0 1653.5 201.2C1655.5 201.5 1657.5 201.8 1659.5 202.1C1661.5 202.4 1663.5 202.8 1665.5 203.1C1667.5 203.5 1669.5 203.8 1671.5 204.2C1673.5 204.6 1675.4 205.0 1677.4 205.4C1679.4 205.8 1681.4 206.3 1683.3 206.7C1685.3 207.2 1687.3 207.6 1689.2 208.1C1691.2 208.6 1693.1 209.0 1695.1 209.5C1697.0 210.0 1699.0 210.5 1700.9 211.1C1702.9 211.6 1704.8 212.1 1706.7 212.7C1708.7 213.2 1710.6 213.8 1712.6 214.3C1714.5 214.9 1716.4 215.5 1718.4 216.0C1720.3 216.6 1722.2 217.2 1724.2 217.8C1726.1 218.4 1728.0 219.0 1729.9 219.6C1731.9 220.2 1733.8 220.8 1735.7 221.5C1737.6 222.1 1739.6 222.7 1741.5 223.4C1743.4 224.0 1745.3 224.6 1747.3 225.3C1749.2 225.9 1751.1 226.6 1753.0 227.2C1754.9 227.9 1756.9 228.5 1758.8 229.2C1760.7 229.8 1762.6 230.5 1764.6 231.1C1766.5 231.8 1768.4 232.4 1770.3 233.1C1772.3 233.7 1774.2 234.4 1776.1 235.1C1778.1 235.7 1780.0 236.3 1781.9 237.0C1783.8 237.6 1785.8 238.3 1787.7 238.9C1789.7 239.5 1791.6 240.2 1793.5 240.8C1795.5 241.4 1797.4 242.0 1799.3 242.6C1801.3 243.2 1803.2 243.8 1805.2 244.4C1807.1 245.0 1809.1 245.5 1811.0 246.1C1813.0 246.7 1814.9 247.2 1816.9 247.7C1818.8 248.3 1820.8 248.8 1822.7 249.3C1824.7 249.8 1826.7 250.2 1828.6 250.7C1830.6 251.2 1832.6 251.6 1834.5 252.0C1836.5 252.5 1838.5 252.9 1840.4 253.3C1842.4 253.6 1844.4 254.0 1846.4 254.3C1848.4 254.7 1850.4 255.0 1852.3 255.3C1854.3 255.6 1856.3 255.9 1858.3 256.1C1860.3 256.3 1862.3 256.6 1864.3 256.7C1866.3 256.9 1868.3 257.1 1870.4 257.2C1872.4 257.3 1874.4 257.4 1876.4 257.5C1878.4 257.6 1880.4 257.6 1882.5 257.6C1884.5 257.6 1886.5 257.6 1888.5 257.5C1890.6 257.4 1892.6 257.3 1894.6 257.2C1896.6 257.0 1898.6 256.8 1900.7 256.6C1902.7 256.3 1904.7 256.1 1906.7 255.7C1908.7 255.4 1910.7 255.0 1912.6 254.6C1914.6 254.2 1916.6 253.7 1918.5 253.2C1920.5 252.6 1922.4 252.1 1924.4 251.4C1926.3 250.8 1928.2 250.2 1930.1 249.5C1932.0 248.8 1933.9 248.1 1935.8 247.3C1937.7 246.6 1939.6 245.8 1941.5 245.0C1943.3 244.2 1945.2 243.4 1947.0 242.6C1948.9 241.7 1950.7 240.9 1952.6 240.0C1954.4 239.1 1956.2 238.2 1958.0 237.3C1959.8 236.3 1961.6 235.4 1963.4 234.4C1965.2 233.4 1966.9 232.4 1968.7 231.4C1970.4 230.4 1972.1 229.3 1973.9 228.3C1975.6 227.2 1977.3 226.1 1979.0 225.0C1980.7 223.9 1982.3 222.8 1984.0 221.6C1985.7 220.5 1987.3 219.3 1988.9 218.1C1990.6 216.9 1992.2 215.7 1993.8 214.5C1995.4 213.2 1997.0 212.0 1998.6 210.7C2000.1 209.5 2001.7 208.2 2003.2 206.9C2004.8 205.6 2006.3 204.2 2007.8 202.9C2009.3 201.6 2010.8 200.2 2012.3 198.8C2013.8 197.4 2015.3 196.0 2016.7 194.6C2018.2 193.2 2019.6 191.8 2021.1 190.4C2022.5 189.0 2024.0 187.6 2025.4 186.2C2026.9 184.7 2028.3 183.3 2029.8 181.9C2031.3 180.5 2032.7 179.1 2034.2 177.8C2035.7 176.4 2038.0 174.4 2038.8 173.8L2038.8 173.8C2038.6 174.7 2038.1 177.7 2037.8 179.7C2037.5 181.7 2037.2 183.7 2036.8 185.7C2036.5 187.7 2036.2 189.7 2035.9 191.7C2035.5 193.7 2035.2 195.7 2034.9 197.7C2034.5 199.7 2034.2 201.7 2033.9 203.7C2033.5 205.7 2033.2 207.7 2032.8 209.7C2032.5 211.6 2032.1 213.6 2031.7 215.6C2031.4 217.6 2031.0 219.6 2030.6 221.6C2030.3 223.6 2029.9 225.6 2029.5 227.5C2029.1 229.5 2028.7 231.5 2028.3 233.5C2027.9 235.5 2027.5 237.4 2027.1 239.4C2026.7 241.4 2026.2 243.4 2025.8 245.3C2025.3 247.3 2024.9 249.3 2024.4 251.2C2024.0 253.2 2023.5 255.2 2023.0 257.1C2022.6 259.1 2022.1 261.1 2021.6 263.0C2021.1 265.0 2020.6 266.9 2020.0 268.9C2019.5 270.8 2019.0 272.8 2018.4 274.7C2017.9 276.7 2017.4 278.6 2016.8 280.6C2016.2 282.5 2015.6 284.5 2015.1 286.4C2014.5 288.3 2013.9 290.3 2013.3 292.2C2012.7 294.1 2012.0 296.0 2011.4 298.0C2010.8 299.9 2010.1 301.8 2009.5 303.7C2008.8 305.6 2008.1 307.5 2007.5 309.4C2006.8 311.3 2006.1 313.2 2005.4 315.1C2004.7 317.0 2004.0 318.9 2003.3 320.8C2002.5 322.7 2001.8 324.6 2001.1 326.5C2000.3 328.3 1999.5 330.2 1998.8 332.1C1998.0 333.9 1997.2 335.8 1996.4 337.7C1995.6 339.5 1994.8 341.4 1994.0 343.2C1993.2 345.1 1992.3 346.9 1991.5 348.7C1990.7 350.6 1989.8 352.4 1988.9 354.2C1988.1 356.1 1987.2 357.9 1986.3 359.7C1985.4 361.5 1984.5 363.3 1983.6 365.1C1982.7 366.9 1981.7 368.7 1980.8 370.5C1979.8 372.3 1978.9 374.1 1977.9 375.9C1977.0 377.6 1976.0 379.4 1975.0 381.2C1974.0 382.9 1973.1 384.7 1972.1 386.5C1971.0 388.2 1970.0 390.0 1969.0 391.7C1968.0 393.5 1967.0 395.2 1965.9 396.9C1964.9 398.7 1963.8 400.4 1962.8 402.1C1961.7 403.9 1960.6 405.6 1959.6 407.3C1958.5 409.0 1957.4 410.7 1956.2 412.4C1955.1 414.1 1954.0 415.7 1952.8 417.4C1951.7 419.0 1950.5 420.7 1949.3 422.3C1948.1 423.9 1946.8 425.5 1945.6 427.1C1944.3 428.6 1943.0 430.2 1941.7 431.7C1940.4 433.3 1939.1 434.8 1937.7 436.3C1936.4 437.8 1935.0 439.2 1933.6 440.7C1932.2 442.1 1930.8 443.6 1929.4 445.0C1927.9 446.4 1926.5 447.8 1925.0 449.2C1923.5 450.6 1922.0 451.9 1920.5 453.3C1919.0 454.6 1917.4 455.9 1915.9 457.2C1914.3 458.5 1912.8 459.8 1911.2 461.1C1909.6 462.4 1908.0 463.6 1906.4 464.9C1904.8 466.1 1903.2 467.3 1901.6 468.5C1899.9 469.7 1898.3 470.9 1896.6 472.1C1895.0 473.3 1893.3 474.4 1891.6 475.6C1889.9 476.7 1888.3 477.8 1886.6 478.9C1884.9 480.0 1883.2 481.1 1881.4 482.2C1879.7 483.3 1878.0 484.4 1876.3 485.4C1874.5 486.5 1872.8 487.5 1871.1 488.5C1869.3 489.5 1867.6 490.5 1865.8 491.5C1864.1 492.5 1862.3 493.5 1860.5 494.5C1858.8 495.5 1857.0 496.4 1855.2 497.4C1853.4 498.3 1851.6 499.2 1849.8 500.2C1848.0 501.1 1846.2 502.0 1844.4 502.9C1842.6 503.8 1840.8 504.7 1839.0 505.6C1837.2 506.5 1835.4 507.3 1833.5 508.2C1831.7 509.0 1829.9 509.9 1828.1 510.7C1826.2 511.6 1824.4 512.4 1822.5 513.2C1820.7 514.1 1818.8 514.9 1817.0 515.7C1815.1 516.5 1813.3 517.3 1811.4 518.1C1809.6 518.9 1807.7 519.7 1805.8 520.5C1804.0 521.2 1802.1 522.0 1800.2 522.8C1798.4 523.5 1796.5 524.3 1794.6 525.1C1792.7 525.8 1790.9 526.6 1789.0 527.3C1787.1 528.1 1785.2 528.8 1783.3 529.6C1781.5 530.3 1779.6 531.0 1777.7 531.8C1775.8 532.5 1773.9 533.2 1772.0 533.9C1770.1 534.7 1768.3 535.4 1766.4 536.1C1764.5 536.8 1762.6 537.5 1760.7 538.3C1758.8 539.0 1756.9 539.7 1755.0 540.4C1753.1 541.1 1751.2 541.8 1749.3 542.5C1747.4 543.2 1745.5 543.9 1743.6 544.6C1741.7 545.3 1739.8 546.0 1737.9 546.7C1736.1 547.4 1734.2 548.1 1732.3 548.8C1730.4 549.5 1728.5 550.2 1726.6 550.9C1724.7 551.6 1722.8 552.3 1720.9 553.0C1719.0 553.7 1717.1 554.4 1715.2 555.1C1713.3 555.8 1711.4 556.5 1709.5 557.2C1707.6 557.9 1705.7 558.6 1703.8 559.3C1701.9 560.0 1700.0 560.7 1698.1 561.4C1696.2 562.1 1694.3 562.8 1692.4 563.5C1690.5 564.2 1688.6 564.9 1686.7 565.6C1684.8 566.3 1682.9 567.0 1681.0 567.7C1679.2 568.5 1677.3 569.2 1675.4 569.9C1673.5 570.6 1671.6 571.4 1669.7 572.1C1667.9 572.8 1666.0 573.6 1664.1 574.3C1662.2 575.1 1660.4 575.8 1658.5 576.6C1656.6 577.4 1654.7 578.2 1652.9 578.9C1651.0 579.7 1649.2 580.5 1647.3 581.3C1645.5 582.1 1643.6 582.9 1641.8 583.8C1639.9 584.6 1638.1 585.4 1636.2 586.2C1634.4 587.1 1632.6 587.9 1630.7 588.8C1628.9 589.6 1627.0 590.5 1625.2 591.3C1623.4 592.2 1621.6 593.0 1619.7 593.9C1617.9 594.8 1616.1 595.6 1614.2 596.5C1612.4 597.4 1610.6 598.2 1608.8 599.1C1606.9 600.0 1605.1 600.8 1603.3 601.7C1601.5 602.6 1599.6 603.5 1597.8 604.3C1596.0 605.2 1594.2 606.1 1592.3 606.9C1590.5 607.8 1588.7 608.7 1586.9 609.5C1585.0 610.4 1583.2 611.3 1581.4 612.1C1579.5 613.0 1577.7 613.8 1575.9 614.6C1574.0 615.5 1572.2 616.3 1570.3 617.2C1568.5 618.0 1566.7 618.8 1564.8 619.7C1563.0 620.5 1561.2 621.3 1559.3 622.2C1557.5 623.1 1555.7 623.9 1553.9 624.8C1552.1 625.7 1550.3 626.6 1548.5 627.6C1546.7 628.5 1544.9 629.5 1543.2 630.4C1541.4 631.4 1539.6 632.4 1537.9 633.4C1536.1 634.4 1534.4 635.4 1532.6 636.4C1530.9 637.4 1529.1 638.4 1527.3 639.4C1525.6 640.4 1523.8 641.4 1522.1 642.4C1520.3 643.3 1518.5 644.3 1516.7 645.3C1514.9 646.2 1513.2 647.2 1511.4 648.1C1509.6 649.0 1507.8 650.0 1506.0 650.9C1504.2 651.8 1502.4 652.7 1500.6 653.6C1498.8 654.6 1497.0 655.5 1495.2 656.4C1493.4 657.3 1491.5 658.2 1489.7 659.1C1487.9 660.0 1486.1 660.9 1484.3 661.8C1482.5 662.7 1480.7 663.7 1478.9 664.6C1477.1 665.5 1475.3 666.4 1473.5 667.3C1471.7 668.3 1469.9 669.2 1468.1 670.1C1466.3 671.1 1464.5 672.0 1462.8 673.0C1461.0 673.9 1459.2 674.9 1457.4 675.9C1455.7 676.8 1453.9 677.8 1452.1 678.8C1450.4 679.8 1448.6 680.8 1446.9 681.9C1445.2 682.9 1443.4 683.9 1441.7 685.0C1440.0 686.0 1438.3 687.1 1436.6 688.2C1434.9 689.3 1433.2 690.4 1431.5 691.5C1429.8 692.7 1427.3 694.4 1426.5 695.0Z"/>
<path class="c" stroke="#000" stroke-width="9.0" d="M1426.2 818.8C1426.3 817.7 1426.6 814.7 1426.8 812.7C1427.0 810.7 1427.2 808.7 1427.4 806.7C1427.6 804.7 1427.8 802.7 1427.9 800.7C1428.1 798.6 1428.3 796.6 1428.5 794.6C1428.6 792.6 1428.8 790.6 1429.0 788.6C1429.2 786.6 1429.3 784.6 1429.5 782.5C1429.7 780.5 1429.8 778.5 1430.0 776.5C1430.2 774.5 1430.3 772.5 1430.5 770.5C1430.6 768.4 1430.8 766.4 1431.0 764.4C1431.1 762.4 1431.3 760.4 1431.4 758.4C1431.6 756.4 1431.8 754.3 1431.9 752.3C1432.1 750.3 1432.2 748.3 1432.4 746.3C1432.6 744.3 1432.7 742.3 1432.9 740.2C1433.0 738.2 1433.2 736.2 1433.4 734.2C1433.5 732.2 1433.7 730.2 1433.8 728.2C1434.0 726.1 1434.2 724.1 1434.3 722.1C1434.5 720.1 1434.7 718.1 1434.8 716.1C1435.0 714.1 1435.2 712.0 1435.4 710.0C1435.5 708.0 1435.7 706.0 1435.9 704.0C1436.1 702.0 1436.3 700.0 1436.5 698.0C1436.6 696.0 1436.8 693.9 1437.0 691.9C1437.2 689.9 1437.4 687.9 1437.6 685.9C1437.8 683.9 1438.0 681.9 1438.2 679.9C1438.4 677.9 1438.6 675.9 1438.8 673.8C1439.1 671.8 1439.3 669.8 1439.5 667.8C1439.7 665.8 1439.9 663.8 1440.2 661.8C1440.4 659.8 1440.6 657.8 1440.9 655.8C1441.1 653.8 1441.4 651.8 1441.6 649.8C1441.8 647.8 1442.1 645.8 1442.3 643.8C1442.6 641.7 1442.8 639.7 1443.1 637.7C1443.4 635.7 1443.6 633.7 1443.9 631.7C1444.2 629.7 1444.4 627.7 1444.7 625.7C1445.0 623.7 1445.2 621.7 1445.5 619.7C1445.8 617.7 1446.1 615.7 1446.4 613.7C1446.6 611.7 1446.9 609.7 1447.2 607.7C1447.5 605.7 1447.8 603.7 1448.1 601.7C1448.4 599.7 1448.7 597.7 1449.0 595.7C1449.3 593.7 1449.6 591.8 1449.9 589.8C1450.2 587.8 1450.5 585.8 1450.9 583.8C1451.2 581.8 1451.5 579.8 1451.8 577.8C1452.1 575.8 1452.4 573.8 1452.8 571.8C1453.1 569.8 1453.4 567.8 1453.8 565.8C1454.1 563.8 1454.4 561.8 1454.8 559.8C1455.1 557.9 1455.4 555.9 1455.8 553.9C1456.1 551.9 1456.4 549.9 1456.8 547.9C1457.1 545.9 1457.5 543.9 1457.8 541.9C1458.2 539.9 1458.5 537.9 1458.9 536.0C1459.2 534.0 1459.6 532.0 1460.0 530.0C1460.3 528.0 1460.7 526.0 1461.0 524.0C1461.4 522.0 1461.8 520.0 1462.1 518.1C1462.5 516.1 1462.9 514.1 1463.2 512.1C1463.6 510.1 1464.0 508.1 1464.4 506.1C1464.7 504.2 1465.1 502.2 1465.5 500.2C1465.9 498.2 1466.3 496.2 1466.6 494.2C1467.0 492.3 1467.4 490.3 1467.8 488.3C1468.2 486.3 1468.6 484.3 1469.0 482.3C1469.4 480.4 1469.8 478.4 1470.2 476.4C1470.6 474.4 1471.0 472.4 1471.4 470.5C1471.8 468.5 1472.2 466.5 1472.6 464.5C1473.1 462.5 1473.5 460.6 1473.9 458.6C1474.3 456.6 1474.7 454.6 1475.2 452.7C1475.6 450.7 1476.0 448.7 1476.4 446.7C1476.9 444.8 1477.3 442.8 1477.8 440.8C1478.2 438.9 1478.7 436.9 1479.1 434.9C1479.6 433.0 1480.0 431.0 1480.5 429.0C1481.0 427.1 1481.4 425.1 1481.9 423.1C1482.4 421.2 1482.9 419.2 1483.4 417.3C1483.9 415.3 1484.4 413.3 1484.9 411.4C1485.4 409.4 1485.9 407.5 1486.4 405.5C1486.9 403.6 1487.5 401.6 1488.0 399.7C1488.5 397.8 1489.1 395.8 1489.7 393.9C1490.2 391.9 1490.8 390.0 1491.4 388.1C1491.9 386.1 1492.5 384.2 1493.1 382.3C1493.7 380.4 1494.3 378.4 1494.9 376.5C1495.5 374.6 1496.2 372.7 1496.8 370.8C1497.4 368.8 1498.1 366.9 1498.7 365.0C1499.4 363.1 1500.1 361.2 1500.8 359.3C1501.4 357.4 1502.1 355.5 1502.9 353.6C1503.6 351.7 1504.3 349.8 1505.0 348.0C1505.8 346.1 1506.5 344.2 1507.3 342.3C1508.0 340.4 1508.8 338.6 1509.6 336.7C1510.4 334.8 1511.2 333.0 1512.0 331.1C1512.8 329.3 1513.7 327.4 1514.5 325.6C1515.4 323.8 1516.3 321.9 1517.2 320.1C1518.1 318.3 1519.0 316.5 1519.9 314.7C1520.9 312.9 1521.8 311.1 1522.8 309.3C1523.8 307.6 1524.8 305.8 1525.9 304.1C1526.9 302.3 1528.0 300.6 1529.0 298.9C1530.1 297.2 1531.2 295.5 1532.4 293.8C1533.5 292.1 1534.7 290.4 1535.9 288.8C1537.1 287.2 1538.3 285.5 1539.6 283.9C1540.8 282.3 1542.1 280.8 1543.5 279.2C1544.8 277.7 1546.1 276.2 1547.6 274.8C1549.0 273.3 1550.4 271.9 1551.9 270.6C1553.4 269.2 1554.9 267.9 1556.5 266.7C1558.1 265.4 1559.7 264.2 1561.3 263.1C1563.0 262.0 1564.7 260.9 1566.4 259.9C1568.1 258.9 1569.9 257.9 1571.7 257.0C1573.4 256.0 1575.3 255.2 1577.1 254.4C1578.9 253.5 1580.8 252.8 1582.7 252.1C1584.6 251.3 1586.5 250.7 1588.4 250.1C1590.3 249.4 1592.3 248.9 1594.2 248.4C1596.2 247.8 1598.1 247.4 1600.1 246.9C1602.1 246.5 1604.1 246.1 1606.1 245.7C1608.1 245.4 1610.1 245.1 1612.1 244.7C1614.1 244.4 1616.1 244.1 1618.1 243.9C1620.2 243.6 1622.2 243.3 1624.2 243.1C1626.2 242.8 1628.2 242.6 1630.3 242.3C1632.3 242.1 1634.3 241.8 1636.3 241.5C1638.3 241.2 1640.3 240.9 1642.3 240.6C1644.3 240.3 1646.3 240.0 1648.3 239.6C1650.3 239.2 1652.2 238.8 1654.2 238.4C1656.1 238.0 1658.1 237.5 1660.0 236.9C1661.9 236.4 1663.8 235.8 1665.7 235.2C1667.6 234.5 1669.5 233.8 1671.4 233.1C1673.2 232.4 1675.1 231.6 1676.9 230.7C1678.7 229.9 1680.6 229.1 1682.4 228.2C1684.2 227.3 1686.0 226.4 1687.8 225.4C1689.6 224.5 1691.4 223.6 1693.2 222.6C1695.0 221.7 1696.8 220.7 1698.6 219.8C1700.4 218.8 1702.2 217.9 1704.0 216.9C1705.8 216.0 1707.6 215.1 1709.5 214.2C1711.3 213.3 1713.1 212.4 1715.0 211.6C1716.8 210.8 1718.7 210.0 1720.5 209.2C1722.4 208.4 1724.3 207.7 1726.2 207.1C1728.1 206.4 1730.0 205.8 1732.0 205.2C1733.9 204.6 1735.8 204.1 1737.8 203.6C1739.8 203.1 1741.7 202.6 1743.7 202.2C1745.7 201.8 1747.7 201.4 1749.6 201.1C1751.6 200.7 1753.6 200.4 1755.6 200.2C1757.6 199.9 1759.7 199.7 1761.7 199.5C1763.7 199.3 1765.7 199.2 1767.7 199.1C1769.7 198.9 1771.8 198.9 1773.8 198.8C1775.8 198.8 1777.8 198.8 1779.9 198.8C1781.9 198.8 1783.9 198.9 1785.9 199.0C1788.0 199.1 1790.0 199.2 1792.0 199.4C1794.0 199.6 1796.0 199.7 1798.0 200.0C1800.0 200.2 1802.0 200.4 1804.0 200.7C1806.0 201.0 1808.0 201.3 1810.0 201.7C1812.0 202.0 1814.0 202.4 1816.0 202.7C1818.0 203.1 1819.9 203.5 1821.9 204.0C1823.9 204.4 1825.9 204.8 1827.8 205.3C1829.8 205.8 1831.8 206.3 1833.7 206.8C1835.7 207.3 1837.6 207.8 1839.6 208.4C1841.5 208.9 1843.5 209.5 1845.4 210.0C1847.3 210.6 1849.3 211.2 1851.2 211.7C1853.1 212.3 1855.1 212.9 1857.0 213.4C1859.0 213.9 1860.9 214.5 1862.9 215.0C1864.8 215.5 1866.7 216.0 1868.7 216.5C1870.7 217.0 1872.6 217.4 1874.6 217.9C1876.5 218.3 1878.5 218.8 1880.5 219.2C1882.4 219.6 1884.4 220.0 1886.4 220.4C1888.4 220.7 1890.3 221.1 1892.3 221.4C1894.3 221.8 1896.3 222.1 1898.3 222.4C1900.3 222.7 1902.3 223.0 1904.3 223.3C1906.3 223.5 1908.3 223.8 1910.3 224.0C1912.3 224.2 1914.3 224.4 1916.3 224.6C1918.3 224.8 1920.3 225.0 1922.4 225.1C1924.4 225.2 1926.4 225.4 1928.4 225.5C1930.4 225.6 1932.5 225.6 1934.5 225.7C1936.5 225.7 1938.5 225.8 1940.6 225.8C1942.6 225.8 1944.6 225.8 1946.7 225.8C1948.7 225.7 1950.7 225.7 1952.7 225.6C1954.8 225.5 1956.8 225.4 1958.8 225.3C1960.8 225.2 1962.9 225.0 1964.9 224.9C1966.9 224.7 1968.9 224.5 1970.9 224.3C1972.9 224.1 1974.9 223.9 1977.0 223.6C1979.0 223.3 1981.0 223.0 1982.9 222.7C1984.9 222.4 1986.9 222.0 1988.9 221.7C1990.9 221.3 1992.8 220.9 1994.8 220.4C1996.8 220.0 1998.7 219.5 2000.7 218.9C2002.6 218.4 2004.5 217.9 2006.4 217.3C2008.4 216.7 2010.3 216.0 2012.1 215.4C2014.0 214.7 2015.9 214.0 2017.8 213.2C2019.6 212.4 2021.5 211.6 2023.3 210.8C2025.1 209.9 2026.9 209.0 2028.7 208.1C2030.5 207.1 2032.3 206.1 2034.0 205.1C2035.8 204.0 2038.4 202.3 2039.2 201.8L2039.2 201.8C2039.2 202.8 2039.1 205.8 2039.0 207.8C2039.0 209.8 2038.9 211.8 2038.8 213.9C2038.6 215.9 2038.5 217.9 2038.4 219.9C2038.2 221.9 2038.1 223.9 2037.9 225.9C2037.7 227.9 2037.5 230.0 2037.3 232.0C2037.1 234.0 2036.9 236.0 2036.7 238.0C2036.5 240.0 2036.2 242.0 2036.0 244.0C2035.8 246.0 2035.5 248.0 2035.2 250.0C2035.0 252.0 2034.7 254.0 2034.4 256.0C2034.1 258.0 2033.8 260.0 2033.5 262.0C2033.2 264.0 2032.9 266.0 2032.6 268.0C2032.3 270.0 2031.9 271.9 2031.6 273.9C2031.3 275.9 2030.9 277.9 2030.6 279.9C2030.2 281.9 2029.9 283.9 2029.5 285.9C2029.2 287.9 2028.8 289.8 2028.5 291.8C2028.1 293.8 2027.7 295.8 2027.3 297.8C2027.0 299.8 2026.6 301.8 2026.2 303.7C2025.8 305.7 2025.5 307.7 2025.1 309.7C2024.7 311.7 2024.3 313.6 2023.9 315.6C2023.5 317.6 2023.1 319.6 2022.7 321.5C2022.3 323.5 2021.8 325.5 2021.4 327.5C2021.0 329.4 2020.6 331.4 2020.1 333.4C2019.7 335.4 2019.2 337.3 2018.8 339.3C2018.3 341.2 2017.9 343.2 2017.4 345.2C2016.9 347.1 2016.5 349.1 2016.0 351.1C2015.5 353.0 2015.0 355.0 2014.5 356.9C2014.0 358.9 2013.5 360.8 2013.0 362.8C2012.4 364.7 2011.9 366.7 2011.4 368.6C2010.8 370.5 2010.3 372.5 2009.7 374.4C2009.1 376.4 2008.6 378.3 2008.0 380.2C2007.4 382.2 2006.8 384.1 2006.2 386.0C2005.5 387.9 2004.9 389.9 2004.3 391.8C2003.6 393.7 2003.0 395.6 2002.3 397.5C2001.6 399.4 2000.9 401.3 2000.2 403.2C1999.5 405.1 1998.7 406.9 1998.0 408.8C1997.2 410.7 1996.5 412.5 1995.7 414.4C1994.9 416.2 1994.0 418.1 1993.2 419.9C1992.4 421.8 1991.5 423.6 1990.6 425.4C1989.7 427.2 1988.8 429.0 1987.9 430.8C1986.9 432.6 1986.0 434.4 1985.0 436.1C1984.0 437.9 1982.9 439.6 1981.9 441.4C1980.9 443.1 1979.8 444.8 1978.7 446.5C1977.6 448.2 1976.5 449.9 1975.3 451.6C1974.1 453.2 1973.0 454.9 1971.8 456.5C1970.6 458.1 1969.3 459.7 1968.1 461.3C1966.8 462.9 1965.5 464.5 1964.2 466.0C1962.9 467.6 1961.6 469.1 1960.2 470.6C1958.9 472.0 1957.5 473.5 1956.1 475.0C1954.7 476.4 1953.3 477.8 1951.8 479.2C1950.3 480.6 1948.9 481.9 1947.4 483.2C1945.9 484.6 1944.3 485.9 1942.8 487.2C1941.2 488.4 1939.7 489.7 1938.1 490.9C1936.5 492.1 1934.9 493.3 1933.2 494.5C1931.6 495.7 1930.0 496.8 1928.3 498.0C1926.6 499.1 1925.0 500.2 1923.3 501.3C1921.6 502.4 1919.9 503.4 1918.1 504.5C1916.4 505.5 1914.7 506.5 1912.9 507.5C1911.2 508.6 1909.4 509.5 1907.6 510.5C1905.8 511.5 1904.0 512.4 1902.2 513.4C1900.4 514.3 1898.6 515.2 1896.8 516.1C1895.0 517.0 1893.2 517.9 1891.3 518.8C1889.5 519.6 1887.6 520.5 1885.8 521.3C1883.9 522.2 1882.1 523.0 1880.2 523.8C1878.4 524.6 1876.5 525.4 1874.6 526.2C1872.8 527.0 1870.9 527.8 1869.0 528.6C1867.2 529.3 1865.3 530.1 1863.4 530.9C1861.6 531.6 1859.7 532.4 1857.8 533.1C1855.9 533.8 1854.0 534.6 1852.2 535.3C1850.3 536.0 1848.4 536.7 1846.5 537.4C1844.6 538.1 1842.7 538.8 1840.9 539.5C1839.0 540.2 1837.1 540.9 1835.2 541.5C1833.3 542.2 1831.4 542.9 1829.5 543.6C1827.6 544.2 1825.7 544.9 1823.8 545.5C1821.9 546.2 1820.0 546.9 1818.1 547.5C1816.2 548.2 1814.3 548.8 1812.4 549.4C1810.5 550.1 1808.6 550.7 1806.7 551.4C1804.8 552.0 1802.9 552.7 1801.0 553.3C1799.1 553.9 1797.1 554.6 1795.2 555.2C1793.3 555.8 1791.4 556.5 1789.5 557.1C1787.6 557.8 1785.6 558.4 1783.7 559.0C1781.8 559.7 1779.9 560.3 1778.0 560.9C1776.0 561.5 1774.1 562.2 1772.2 562.8C1770.3 563.4 1768.3 564.1 1766.4 564.7C1764.5 565.3 1762.6 565.9 1760.6 566.6C1758.7 567.2 1756.8 567.8 1754.9 568.4C1752.9 569.1 1751.0 569.7 1749.1 570.3C1747.2 570.9 1745.2 571.6 1743.3 572.2C1741.4 572.8 1739.5 573.4 1737.5 574.0C1735.6 574.6 1733.7 575.3 1731.8 575.9C1729.9 576.5 1727.9 577.1 1726.0 577.7C1724.1 578.3 1722.2 579.0 1720.3 579.6C1718.4 580.2 1716.5 580.8 1714.5 581.4C1712.6 582.0 1710.7 582.6 1708.8 583.3C1706.9 583.9 1705.0 584.5 1703.1 585.2C1701.2 585.8 1699.2 586.4 1697.3 587.1C1695.4 587.7 1693.5 588.4 1691.6 589.0C1689.7 589.7 1687.8 590.4 1685.9 591.1C1684.0 591.9 1682.1 592.6 1680.3 593.5C1678.4 594.3 1676.6 595.2 1674.8 596.1C1673.1 597.1 1671.3 598.1 1669.6 599.2C1667.9 600.3 1666.3 601.4 1664.7 602.7C1663.1 603.9 1661.5 605.2 1660.0 606.5C1658.5 607.9 1657.1 609.3 1655.7 610.8C1654.3 612.2 1653.0 613.8 1651.7 615.3C1650.4 616.9 1649.2 618.5 1648.1 620.2C1647.0 621.9 1645.9 623.6 1644.9 625.3C1643.9 627.1 1643.0 628.9 1642.1 630.7C1641.2 632.5 1640.4 634.4 1639.5 636.2C1638.7 638.1 1637.9 640.0 1637.2 641.8C1636.4 643.7 1635.7 645.6 1635.0 647.5C1634.2 649.4 1633.5 651.3 1632.8 653.2C1632.2 655.1 1631.5 657.0 1630.8 658.9C1630.2 660.8 1629.6 662.7 1628.9 664.6C1628.3 666.6 1627.7 668.5 1627.1 670.4C1626.5 672.3 1625.9 674.3 1625.3 676.2C1624.8 678.1 1624.2 680.1 1623.6 682.0C1623.1 683.9 1622.5 685.9 1622.0 687.8C1621.4 689.8 1620.9 691.7 1620.4 693.6C1619.8 695.6 1619.3 697.5 1618.8 699.5C1618.3 701.4 1617.8 703.4 1617.2 705.3C1616.7 707.3 1616.2 709.2 1615.7 711.2C1615.2 713.1 1614.6 715.1 1614.1 717.0C1613.6 719.0 1613.1 720.9 1612.5 722.9C1612.0 724.8 1611.5 726.8 1610.9 728.7C1610.4 730.7 1609.8 732.6 1609.3 734.5C1608.7 736.5 1608.2 738.4 1607.6 740.4C1607.1 742.3 1606.5 744.2 1605.9 746.2C1605.3 748.1 1604.7 750.0 1604.1 752.0C1603.5 753.9 1602.9 755.8 1602.3 757.7C1601.7 759.6 1601.1 761.6 1600.5 763.5C1599.8 765.4 1599.2 767.3 1598.5 769.2C1597.9 771.1 1597.2 773.0 1596.6 774.9C1595.9 776.8 1595.2 778.7 1594.5 780.6C1593.8 782.5 1593.1 784.4 1592.4 786.3C1591.6 788.1 1590.9 790.0 1590.0 791.8C1589.1 793.7 1588.2 795.5 1587.1 797.3C1586.1 799.0 1584.9 800.8 1583.6 802.4C1582.2 804.1 1580.8 805.7 1579.2 807.0C1577.6 808.3 1575.9 809.5 1574.2 810.3C1572.5 811.1 1570.6 811.6 1568.7 811.6C1566.9 811.6 1564.9 811.1 1563.1 810.4C1561.4 809.7 1559.7 808.5 1558.1 807.3C1556.6 806.1 1555.2 804.6 1553.8 803.1C1552.4 801.5 1551.1 799.8 1549.8 798.2C1548.5 796.5 1547.2 794.8 1545.8 793.2C1544.4 791.6 1543.0 790.0 1541.5 788.7C1539.9 787.3 1538.3 786.1 1536.6 785.0C1534.9 784.0 1533.1 783.0 1531.3 782.3C1529.5 781.6 1527.6 781.0 1525.7 780.6C1523.8 780.1 1521.9 779.8 1519.9 779.7C1518.0 779.5 1516.0 779.5 1514.0 779.5C1512.1 779.6 1510.1 779.8 1508.0 780.0C1506.0 780.3 1504.0 780.7 1502.0 781.1C1500.0 781.5 1498.0 782.1 1496.0 782.6C1494.0 783.2 1492.0 783.8 1490.0 784.5C1488.1 785.2 1486.1 785.9 1484.2 786.6C1482.2 787.3 1480.3 788.1 1478.5 788.9C1476.6 789.6 1474.7 790.4 1472.9 791.3C1471.1 792.1 1469.3 792.9 1467.5 793.8C1465.7 794.7 1463.9 795.6 1462.1 796.5C1460.4 797.4 1458.6 798.3 1456.9 799.3C1455.1 800.2 1453.4 801.2 1451.7 802.2C1450.0 803.2 1448.3 804.3 1446.6 805.3C1444.9 806.3 1443.2 807.4 1441.5 808.5C1439.8 809.6 1438.1 810.7 1436.4 811.8C1434.7 812.9 1433.0 814.1 1431.3 815.2C1429.6 816.4 1427.1 818.2 1426.2 818.8Z"/>
<path class="f" d="M1309.00 43.00 H2143.05M2140.20 43.00 V949.25M1309.00 933.25 H2140.20M1325.00 43.00 V949.25M1309.00 221.05 H1325.00M1309.00 399.10 H1325.00M1309.00 577.15 H1325.00M1309.00 755.20 H1325.00M1528.80 933.25 V949.25M1732.60 933.25 V949.25M1936.40 933.25 V949.25"/>
<text class="t" text-anchor="end" x="1279.8" y="60.6">0.8</text>
<text class="t" text-anchor="end" x="1279.8" y="238.7">0.4</text>
<text class="t" text-anchor="end" x="1279.8" y="416.7">0</text>
<text class="t" text-anchor="end" x="1279.8" y="594.8">-0.4</text>
<text class="t" text-anchor="end" x="1279.8" y="772.8">-0.8</text>
<text class="t" text-anchor="end" x="1279.8" y="950.9">-1.2</text>
<text class="t" text-anchor="middle" x="1325.0" y="1012.8">-1</text>
<text class="t" text-anchor="middle" x="1528.8" y="1012.8">-0.6</text>
<text class="t" text-anchor="middle" x="1732.6" y="1012.8">-0.2</text>
<text class="t" text-anchor="middle" x="1936.4" y="1012.8">0.2</text>
<text class="t" text-anchor="middle" x="2140.2" y="1012.8">0.6</text>
<text class="n" x="1350.0" y="116.2">ANi6</text>
<text class="g" x="2042.0" y="908.0">(b)</text>
<text class="bx" x="1573.7" y="1086.0" style="white-space:pre">E vs Ag/AgCl  (V)</text>
<text class="b" transform="translate(1172.5 575.5) rotate(-90)">I (mA)</text>
</g>
<g id="panel-c">
<path class="c" stroke="#a6a6a6" stroke-width="8.1" d="M324.5 1638.8C324.5 1637.7 324.7 1634.7 324.8 1632.6C324.9 1630.6 325.0 1628.6 325.1 1626.6C325.2 1624.5 325.3 1622.5 325.5 1620.5C325.6 1618.5 325.8 1616.4 325.9 1614.4C326.1 1612.4 326.2 1610.4 326.4 1608.4C326.6 1606.4 326.8 1604.4 327.0 1602.4C327.2 1600.3 327.4 1598.3 327.6 1596.3C327.8 1594.3 328.0 1592.3 328.2 1590.3C328.5 1588.3 328.7 1586.3 329.0 1584.3C329.2 1582.3 329.5 1580.3 329.7 1578.3C330.0 1576.3 330.3 1574.3 330.6 1572.3C330.9 1570.3 331.2 1568.3 331.5 1566.3C331.8 1564.4 332.1 1562.4 332.4 1560.4C332.8 1558.4 333.1 1556.4 333.5 1554.4C333.8 1552.4 334.2 1550.4 334.5 1548.4C334.9 1546.4 335.3 1544.4 335.7 1542.4C336.1 1540.4 336.5 1538.4 336.9 1536.4C337.3 1534.4 337.7 1532.4 338.1 1530.5C338.6 1528.5 339.0 1526.5 339.5 1524.5C340.0 1522.5 340.4 1520.5 340.9 1518.5C341.4 1516.5 341.9 1514.6 342.5 1512.6C343.0 1510.6 343.6 1508.7 344.2 1506.7C344.7 1504.8 345.3 1502.8 346.0 1500.9C346.6 1498.9 347.2 1497.0 347.9 1495.1C348.6 1493.2 349.3 1491.2 350.0 1489.3C350.7 1487.5 351.5 1485.6 352.3 1483.7C353.1 1481.8 353.9 1480.0 354.7 1478.1C355.6 1476.3 356.5 1474.4 357.4 1472.6C358.3 1470.8 359.3 1469.0 360.2 1467.2C361.2 1465.5 362.2 1463.7 363.3 1462.0C364.3 1460.2 365.4 1458.5 366.6 1456.8C367.7 1455.2 368.8 1453.5 370.0 1451.9C371.2 1450.2 372.4 1448.6 373.7 1447.0C375.0 1445.5 376.3 1443.9 377.6 1442.4C378.9 1440.9 380.3 1439.4 381.7 1438.0C383.1 1436.6 384.5 1435.2 386.0 1433.8C387.5 1432.4 389.0 1431.1 390.5 1429.8C392.1 1428.5 393.7 1427.3 395.3 1426.1C396.9 1424.9 398.6 1423.8 400.2 1422.6C401.9 1421.5 403.6 1420.4 405.3 1419.4C407.1 1418.4 408.8 1417.4 410.6 1416.4C412.4 1415.4 414.2 1414.5 416.0 1413.6C417.9 1412.7 419.7 1411.9 421.6 1411.1C423.4 1410.3 425.3 1409.5 427.2 1408.7C429.1 1408.0 431.0 1407.3 432.9 1406.6C434.8 1405.9 436.7 1405.3 438.7 1404.6C440.6 1404.0 442.5 1403.4 444.5 1402.9C446.4 1402.3 448.4 1401.8 450.4 1401.3C452.3 1400.8 454.3 1400.4 456.3 1399.9C458.2 1399.5 460.2 1399.1 462.2 1398.7C464.2 1398.3 466.2 1398.0 468.1 1397.7C470.1 1397.3 472.1 1397.0 474.1 1396.7C476.1 1396.5 478.2 1396.2 480.2 1396.0C482.2 1395.7 484.2 1395.5 486.2 1395.3C488.2 1395.1 490.2 1395.0 492.3 1394.8C494.3 1394.7 496.3 1394.5 498.4 1394.4C500.4 1394.3 502.4 1394.2 504.4 1394.1C506.5 1394.1 508.5 1394.0 510.6 1393.9C512.6 1393.9 514.6 1393.9 516.7 1393.9C518.7 1393.8 520.7 1393.8 522.8 1393.8C524.8 1393.9 526.9 1393.9 528.9 1393.9C530.9 1393.9 533.0 1394.0 535.0 1394.0C537.1 1394.1 539.1 1394.2 541.1 1394.2C543.2 1394.3 545.2 1394.4 547.2 1394.5C549.3 1394.6 551.3 1394.7 553.3 1394.8C555.4 1394.9 557.4 1395.0 559.4 1395.1C561.5 1395.2 563.5 1395.3 565.5 1395.4C567.5 1395.6 569.5 1395.7 571.5 1395.8C573.6 1395.9 575.6 1396.1 577.6 1396.2C579.6 1396.3 581.6 1396.5 583.6 1396.6C585.6 1396.7 587.6 1396.9 589.6 1397.0C591.6 1397.2 593.6 1397.4 595.6 1397.5C597.6 1397.7 599.6 1397.8 601.6 1398.0C603.6 1398.2 605.6 1398.3 607.6 1398.5C609.7 1398.7 611.7 1398.9 613.7 1399.1C615.7 1399.3 617.7 1399.4 619.7 1399.6C621.7 1399.8 623.7 1400.0 625.7 1400.3C627.7 1400.5 629.7 1400.7 631.8 1400.9C633.8 1401.1 635.8 1401.3 637.8 1401.6C639.8 1401.8 641.9 1402.0 643.9 1402.3C645.9 1402.5 649.0 1402.9 650.0 1403.0L652.5 1405.0C653.5 1405.1 656.5 1405.4 658.6 1405.6C660.6 1405.9 662.6 1406.1 664.7 1406.3C666.7 1406.5 668.7 1406.8 670.8 1407.0C672.8 1407.2 674.8 1407.4 676.9 1407.7C678.9 1407.9 680.9 1408.1 683.0 1408.3C685.0 1408.6 687.1 1408.8 689.1 1409.0C691.1 1409.3 693.2 1409.5 695.2 1409.7C697.3 1409.9 699.3 1410.2 701.4 1410.4C703.4 1410.6 705.5 1410.8 707.5 1411.1C709.6 1411.3 711.6 1411.5 713.7 1411.7C715.7 1411.9 717.8 1412.2 719.8 1412.4C721.9 1412.6 723.9 1412.8 726.0 1413.0C728.0 1413.2 730.1 1413.4 732.1 1413.6C734.2 1413.8 736.2 1414.0 738.3 1414.2C740.4 1414.4 742.4 1414.6 744.5 1414.7C746.5 1414.9 748.6 1415.1 750.6 1415.3C752.7 1415.4 754.7 1415.6 756.8 1415.8C758.9 1415.9 760.9 1416.1 763.0 1416.2C765.0 1416.4 767.1 1416.5 769.1 1416.6C771.2 1416.8 773.3 1416.9 775.3 1417.0C777.4 1417.1 779.4 1417.2 781.5 1417.3C783.5 1417.4 785.6 1417.5 787.7 1417.6C789.7 1417.7 791.8 1417.7 793.8 1417.8C795.9 1417.9 797.9 1417.9 800.0 1418.0C802.1 1418.0 804.1 1418.1 806.2 1418.1C808.2 1418.1 810.3 1418.1 812.3 1418.1C814.4 1418.1 816.4 1418.1 818.5 1418.1C820.5 1418.1 822.6 1418.1 824.6 1418.0C826.7 1418.0 828.7 1417.9 830.8 1417.9C832.8 1417.8 834.9 1417.7 836.9 1417.6C838.9 1417.5 841.0 1417.4 843.0 1417.3C845.1 1417.2 847.1 1417.1 849.2 1416.9C851.2 1416.8 853.2 1416.6 855.3 1416.4C857.3 1416.2 859.3 1416.1 861.4 1415.9C863.4 1415.6 865.4 1415.4 867.5 1415.2C869.5 1415.0 871.5 1414.7 873.6 1414.4C875.6 1414.2 877.6 1413.9 879.6 1413.6C881.7 1413.3 883.7 1413.0 885.7 1412.6C887.7 1412.3 889.8 1411.9 891.8 1411.6C893.8 1411.2 895.8 1410.8 897.8 1410.4C899.8 1410.0 901.8 1409.6 903.8 1409.1C905.9 1408.7 907.9 1408.2 909.9 1407.7C911.9 1407.3 913.9 1406.8 915.9 1406.2C917.9 1405.7 919.9 1405.2 921.9 1404.6C923.9 1404.1 925.8 1403.5 927.8 1402.9C929.8 1402.3 932.8 1401.3 933.8 1401.0L933.8 1401.0C933.7 1402.0 933.5 1405.2 933.2 1407.2C932.9 1409.3 932.4 1411.2 931.9 1413.2C931.4 1415.1 930.8 1417.0 930.1 1418.9C929.4 1420.8 928.6 1422.6 927.7 1424.4C926.8 1426.1 925.9 1427.9 924.8 1429.6C923.8 1431.3 922.7 1433.0 921.6 1434.6C920.4 1436.2 919.2 1437.8 917.9 1439.3C916.7 1440.9 915.4 1442.4 914.0 1443.9C912.6 1445.4 911.2 1446.8 909.8 1448.2C908.4 1449.6 906.9 1451.0 905.4 1452.3C903.9 1453.7 902.3 1455.0 900.7 1456.2C899.2 1457.5 897.5 1458.8 895.9 1460.0C894.3 1461.2 892.6 1462.4 890.9 1463.5C889.2 1464.7 887.5 1465.8 885.8 1466.9C884.0 1468.0 882.3 1469.1 880.5 1470.1C878.8 1471.1 877.0 1472.2 875.2 1473.1C873.4 1474.1 871.6 1475.1 869.8 1476.0C868.0 1477.0 866.2 1477.9 864.4 1478.8C862.6 1479.7 860.7 1480.6 858.9 1481.4C857.1 1482.3 855.2 1483.1 853.4 1483.9C851.5 1484.7 849.7 1485.5 847.8 1486.3C846.0 1487.0 844.1 1487.8 842.2 1488.5C840.4 1489.3 838.5 1490.0 836.6 1490.7C834.7 1491.4 832.8 1492.0 830.9 1492.7C829.0 1493.4 827.1 1494.0 825.2 1494.6C823.3 1495.3 821.4 1495.9 819.5 1496.5C817.6 1497.1 815.7 1497.7 813.7 1498.3C811.8 1498.8 809.9 1499.4 807.9 1499.9C806.0 1500.5 804.1 1501.0 802.1 1501.6C800.2 1502.1 798.2 1502.6 796.3 1503.1C794.3 1503.6 792.4 1504.1 790.4 1504.6C788.5 1505.1 786.5 1505.6 784.5 1506.1C782.6 1506.6 780.6 1507.1 778.6 1507.5C776.7 1508.0 774.7 1508.5 772.7 1508.9C770.7 1509.4 768.8 1509.9 766.8 1510.4C764.8 1510.8 762.9 1511.3 760.9 1511.8C758.9 1512.3 757.0 1512.7 755.0 1513.2C753.0 1513.7 751.1 1514.2 749.1 1514.7C747.1 1515.2 745.2 1515.7 743.2 1516.2C741.3 1516.7 739.3 1517.3 737.4 1517.8C735.4 1518.3 733.5 1518.8 731.5 1519.4C729.6 1519.9 727.6 1520.4 725.7 1521.0C723.7 1521.5 721.8 1522.1 719.8 1522.6C717.9 1523.2 715.9 1523.7 714.0 1524.3C712.1 1524.8 710.1 1525.4 708.2 1525.9C706.2 1526.5 704.3 1527.0 702.4 1527.6C700.4 1528.2 698.5 1528.7 696.5 1529.3C694.6 1529.8 692.6 1530.4 690.7 1530.9C688.8 1531.5 686.8 1532.0 684.9 1532.6C682.9 1533.2 681.0 1533.7 679.1 1534.3C677.1 1534.8 675.2 1535.4 673.2 1535.9C671.3 1536.5 669.3 1537.0 667.4 1537.6C665.5 1538.1 663.5 1538.7 661.6 1539.2C659.6 1539.8 657.7 1540.3 655.7 1540.9C653.8 1541.4 651.9 1542.0 649.9 1542.5C648.0 1543.1 646.0 1543.6 644.1 1544.2C642.1 1544.7 640.2 1545.3 638.2 1545.8C636.3 1546.4 634.4 1546.9 632.4 1547.5C630.5 1548.0 628.5 1548.6 626.6 1549.1C624.6 1549.7 622.7 1550.2 620.7 1550.8C618.8 1551.3 616.9 1551.8 614.9 1552.4C613.0 1552.9 611.0 1553.5 609.1 1554.0C607.1 1554.6 605.2 1555.1 603.2 1555.7C601.3 1556.2 599.4 1556.8 597.4 1557.3C595.5 1557.9 593.5 1558.4 591.6 1558.9C589.6 1559.5 587.7 1560.0 585.7 1560.6C583.8 1561.1 581.8 1561.7 579.9 1562.2C578.0 1562.8 576.0 1563.3 574.1 1563.9C572.1 1564.4 570.2 1564.9 568.2 1565.5C566.3 1566.0 564.3 1566.6 562.4 1567.1C560.4 1567.7 558.5 1568.2 556.6 1568.8C554.6 1569.3 552.7 1569.8 550.7 1570.4C548.8 1570.9 546.8 1571.5 544.9 1572.0C542.9 1572.6 541.0 1573.1 539.0 1573.7C537.1 1574.2 535.1 1574.7 533.2 1575.3C531.3 1575.8 529.3 1576.4 527.4 1576.9C525.4 1577.5 523.5 1578.0 521.5 1578.6C519.6 1579.1 517.6 1579.7 515.7 1580.2C513.7 1580.7 511.8 1581.3 509.8 1581.8C507.9 1582.4 506.0 1582.9 504.0 1583.5C502.1 1584.0 500.1 1584.6 498.2 1585.1C496.2 1585.7 494.3 1586.2 492.3 1586.7C490.4 1587.3 488.4 1587.8 486.5 1588.4C484.6 1588.9 482.6 1589.5 480.7 1590.0C478.7 1590.6 476.8 1591.1 474.8 1591.7C472.9 1592.2 470.9 1592.8 469.0 1593.3C467.1 1593.9 465.1 1594.4 463.2 1595.0C461.2 1595.5 459.3 1596.1 457.3 1596.7C455.4 1597.2 453.5 1597.8 451.5 1598.3C449.6 1598.9 447.6 1599.4 445.7 1600.0C443.7 1600.6 441.8 1601.1 439.9 1601.7C437.9 1602.3 436.0 1602.8 434.0 1603.4C432.1 1604.0 430.2 1604.5 428.2 1605.1C426.3 1605.7 424.4 1606.2 422.4 1606.8C420.5 1607.4 418.6 1608.0 416.6 1608.6C414.7 1609.1 412.7 1609.7 410.8 1610.3C408.9 1610.9 406.9 1611.5 405.0 1612.1C403.1 1612.7 401.2 1613.2 399.2 1613.8C397.3 1614.4 395.4 1615.0 393.4 1615.6C391.5 1616.2 389.6 1616.8 387.7 1617.4C385.7 1618.1 383.8 1618.7 381.9 1619.3C380.0 1619.9 378.0 1620.5 376.1 1621.1C374.2 1621.7 372.3 1622.4 370.3 1623.0C368.4 1623.6 366.5 1624.2 364.6 1624.9C362.7 1625.5 360.8 1626.2 358.8 1626.8C356.9 1627.4 355.0 1628.1 353.1 1628.7C351.2 1629.4 349.3 1630.0 347.4 1630.7C345.4 1631.3 343.5 1632.0 341.6 1632.7C339.7 1633.3 337.8 1634.0 335.9 1634.7C334.0 1635.3 332.1 1636.0 330.2 1636.7C328.3 1637.4 325.5 1638.4 324.5 1638.8Z"/>
<path class="c" stroke="#000" stroke-width="9.2" d="M324.5 2040.0C324.5 2039.0 324.6 2036.0 324.7 2034.0C324.8 2031.9 324.9 2029.9 324.9 2027.9C325.0 2025.9 325.1 2023.9 325.2 2021.9C325.3 2019.9 325.4 2017.8 325.4 2015.8C325.5 2013.8 325.6 2011.8 325.7 2009.8C325.8 2007.8 325.9 2005.8 326.0 2003.7C326.1 2001.7 326.2 1999.7 326.3 1997.7C326.4 1995.7 326.5 1993.7 326.6 1991.7C326.7 1989.6 326.8 1987.6 326.9 1985.6C327.1 1983.6 327.2 1981.6 327.3 1979.6C327.4 1977.5 327.5 1975.5 327.6 1973.5C327.8 1971.5 327.9 1969.5 328.0 1967.5C328.1 1965.5 328.3 1963.5 328.4 1961.4C328.5 1959.4 328.7 1957.4 328.8 1955.4C328.9 1953.4 329.1 1951.4 329.2 1949.4C329.4 1947.3 329.5 1945.3 329.6 1943.3C329.8 1941.3 329.9 1939.3 330.1 1937.3C330.2 1935.3 330.4 1933.2 330.5 1931.2C330.7 1929.2 330.9 1927.2 331.0 1925.2C331.2 1923.2 331.3 1921.2 331.5 1919.2C331.7 1917.2 331.8 1915.1 332.0 1913.1C332.2 1911.1 332.3 1909.1 332.5 1907.1C332.7 1905.1 332.9 1903.1 333.0 1901.1C333.2 1899.1 333.4 1897.0 333.6 1895.0C333.8 1893.0 334.0 1891.0 334.1 1889.0C334.3 1887.0 334.5 1885.0 334.7 1883.0C334.9 1881.0 335.1 1879.0 335.3 1876.9C335.5 1874.9 335.7 1872.9 335.9 1870.9C336.1 1868.9 336.3 1866.9 336.5 1864.9C336.7 1862.9 336.9 1860.9 337.1 1858.9C337.3 1856.9 337.6 1854.9 337.8 1852.9C338.0 1850.9 338.2 1848.8 338.4 1846.8C338.6 1844.8 338.9 1842.8 339.1 1840.8C339.3 1838.8 339.5 1836.8 339.8 1834.8C340.0 1832.8 340.2 1830.8 340.5 1828.8C340.7 1826.8 340.9 1824.8 341.2 1822.8C341.4 1820.8 341.7 1818.8 341.9 1816.8C342.1 1814.8 342.4 1812.8 342.6 1810.8C342.9 1808.8 343.1 1806.8 343.4 1804.8C343.6 1802.8 343.9 1800.8 344.2 1798.8C344.4 1796.8 344.7 1794.8 344.9 1792.8C345.2 1790.8 345.5 1788.8 345.7 1786.8C346.0 1784.8 346.3 1782.8 346.5 1780.8C346.8 1778.8 347.1 1776.8 347.4 1774.8C347.6 1772.8 347.9 1770.8 348.2 1768.8C348.5 1766.8 348.7 1764.8 349.0 1762.8C349.3 1760.8 349.6 1758.8 349.8 1756.8C350.1 1754.8 350.4 1752.8 350.7 1750.9C351.0 1748.9 351.2 1746.9 351.5 1744.9C351.8 1742.9 352.1 1740.9 352.4 1738.9C352.6 1736.9 352.9 1734.9 353.2 1732.9C353.5 1730.9 353.8 1728.9 354.0 1726.9C354.3 1724.9 354.6 1722.9 354.9 1720.9C355.2 1718.9 355.4 1716.9 355.7 1714.9C356.0 1712.9 356.2 1710.9 356.5 1708.9C356.8 1706.9 357.1 1704.9 357.3 1702.9C357.6 1700.8 357.9 1698.8 358.1 1696.8C358.4 1694.8 358.7 1692.8 358.9 1690.8C359.2 1688.8 359.4 1686.8 359.7 1684.8C360.0 1682.8 360.2 1680.8 360.5 1678.8C360.7 1676.7 361.0 1674.7 361.3 1672.7C361.5 1670.7 361.8 1668.7 362.1 1666.7C362.3 1664.7 362.6 1662.7 362.9 1660.7C363.1 1658.7 363.4 1656.7 363.7 1654.7C364.0 1652.7 364.3 1650.7 364.6 1648.7C364.9 1646.7 365.2 1644.7 365.5 1642.8C365.8 1640.8 366.2 1638.8 366.5 1636.8C366.8 1634.8 367.2 1632.8 367.5 1630.9C367.9 1628.9 368.2 1626.9 368.6 1625.0C368.9 1623.0 369.3 1621.0 369.7 1619.1C370.1 1617.1 370.4 1615.1 370.8 1613.2C371.2 1611.2 371.6 1609.2 372.0 1607.3C372.4 1605.3 372.9 1603.4 373.3 1601.4C373.7 1599.4 374.1 1597.5 374.6 1595.5C375.0 1593.6 375.5 1591.6 375.9 1589.6C376.4 1587.7 376.8 1585.7 377.3 1583.8C377.8 1581.8 378.2 1579.9 378.7 1577.9C379.2 1575.9 379.7 1574.0 380.2 1572.0C380.7 1570.1 381.2 1568.1 381.7 1566.1C382.2 1564.2 382.7 1562.2 383.3 1560.2C383.8 1558.3 384.3 1556.3 384.9 1554.3C385.4 1552.4 386.0 1550.4 386.6 1548.4C387.1 1546.5 387.7 1544.5 388.3 1542.6C388.9 1540.6 389.5 1538.7 390.2 1536.7C390.8 1534.8 391.4 1532.9 392.1 1530.9C392.8 1529.0 393.4 1527.1 394.1 1525.2C394.8 1523.3 395.5 1521.3 396.2 1519.5C397.0 1517.6 397.7 1515.7 398.5 1513.8C399.3 1511.9 400.0 1510.1 400.9 1508.2C401.7 1506.4 402.5 1504.5 403.3 1502.7C404.2 1500.9 405.1 1499.1 406.0 1497.3C406.9 1495.5 407.8 1493.7 408.8 1491.9C409.7 1490.2 410.7 1488.4 411.7 1486.7C412.7 1485.0 413.7 1483.2 414.8 1481.6C415.9 1479.9 417.0 1478.2 418.1 1476.5C419.2 1474.9 420.4 1473.3 421.5 1471.7C422.7 1470.0 423.9 1468.5 425.2 1466.9C426.4 1465.3 427.7 1463.8 429.0 1462.3C430.3 1460.7 431.6 1459.2 433.0 1457.8C434.4 1456.3 435.7 1454.8 437.1 1453.4C438.5 1451.9 440.0 1450.5 441.4 1449.1C442.9 1447.7 444.4 1446.3 445.8 1444.9C447.3 1443.6 448.8 1442.2 450.4 1440.9C451.9 1439.5 453.4 1438.2 455.0 1436.9C456.5 1435.6 458.1 1434.3 459.7 1433.0C461.3 1431.7 462.8 1430.4 464.4 1429.2C466.0 1427.9 467.7 1426.7 469.3 1425.4C470.9 1424.2 472.5 1423.0 474.1 1421.7C475.7 1420.5 477.4 1419.3 479.0 1418.1C480.6 1416.8 482.2 1415.6 483.8 1414.4C485.4 1413.2 487.0 1412.0 488.6 1410.7C490.2 1409.5 491.8 1408.2 493.4 1407.0C495.0 1405.7 496.5 1404.5 498.1 1403.2C499.6 1401.9 501.1 1400.6 502.6 1399.3C504.1 1398.0 505.6 1396.6 507.1 1395.3C508.5 1393.9 510.0 1392.5 511.4 1391.1C512.8 1389.7 514.2 1388.3 515.5 1386.8C516.9 1385.4 518.3 1383.9 519.6 1382.4C520.9 1381.0 522.3 1379.5 523.6 1377.9C524.9 1376.4 526.2 1374.9 527.5 1373.4C528.8 1371.8 530.1 1370.3 531.4 1368.7C532.7 1367.2 533.9 1365.6 535.2 1364.0C536.5 1362.5 537.8 1360.9 539.1 1359.3C540.4 1357.7 541.6 1356.2 542.9 1354.6C544.2 1353.0 545.5 1351.4 546.9 1349.8C548.2 1348.3 549.5 1346.7 550.8 1345.1C552.2 1343.6 553.5 1342.0 554.9 1340.5C556.3 1339.0 557.6 1337.4 559.0 1335.9C560.4 1334.4 561.8 1333.0 563.3 1331.5C564.7 1330.1 566.1 1328.6 567.6 1327.2C569.1 1325.8 570.5 1324.5 572.1 1323.1C573.6 1321.8 575.1 1320.5 576.7 1319.2C578.2 1318.0 579.8 1316.8 581.4 1315.6C583.0 1314.4 584.7 1313.3 586.3 1312.2C588.0 1311.1 589.7 1310.1 591.4 1309.1C593.2 1308.2 594.9 1307.3 596.7 1306.4C598.5 1305.5 600.3 1304.7 602.2 1304.0C604.0 1303.3 605.9 1302.6 607.8 1301.9C609.7 1301.3 611.7 1300.7 613.6 1300.2C615.6 1299.7 617.5 1299.2 619.5 1298.8C621.5 1298.4 623.5 1298.0 625.5 1297.7C627.5 1297.4 629.5 1297.1 631.5 1296.9C633.5 1296.6 635.5 1296.5 637.5 1296.3C639.6 1296.2 641.6 1296.1 643.6 1296.1C645.6 1296.0 647.6 1296.0 649.6 1296.0C651.7 1296.1 653.7 1296.1 655.7 1296.2C657.7 1296.3 659.7 1296.4 661.7 1296.6C663.8 1296.8 665.8 1297.0 667.8 1297.2C669.8 1297.4 671.8 1297.6 673.8 1297.9C675.8 1298.1 677.8 1298.4 679.9 1298.7C681.9 1299.0 683.9 1299.3 685.9 1299.6C687.9 1299.9 689.9 1300.2 691.9 1300.6C693.9 1300.9 695.9 1301.2 697.9 1301.6C699.9 1301.9 701.9 1302.3 703.9 1302.6C705.9 1303.0 707.9 1303.3 709.9 1303.6C711.9 1304.0 713.9 1304.3 715.9 1304.6C717.9 1305.0 719.9 1305.3 721.8 1305.6C723.8 1305.9 725.8 1306.2 727.8 1306.5C729.8 1306.8 731.8 1307.1 733.8 1307.4C735.7 1307.7 737.7 1307.9 739.7 1308.2C741.7 1308.5 743.7 1308.8 745.7 1309.0C747.7 1309.3 749.7 1309.6 751.7 1309.8C753.6 1310.1 755.6 1310.4 757.6 1310.6C759.6 1310.9 761.6 1311.1 763.6 1311.4C765.6 1311.6 767.7 1311.9 769.7 1312.1C771.7 1312.4 773.7 1312.6 775.7 1312.8C777.7 1313.0 779.7 1313.2 781.7 1313.4C783.7 1313.6 785.8 1313.8 787.8 1314.0C789.8 1314.1 791.8 1314.3 793.8 1314.4C795.8 1314.5 797.9 1314.6 799.9 1314.7C801.9 1314.8 803.9 1314.9 805.9 1314.9C807.9 1315.0 810.0 1315.0 812.0 1315.0C814.0 1315.0 816.0 1315.0 818.0 1314.9C820.0 1314.8 822.0 1314.7 824.1 1314.6C826.1 1314.5 828.1 1314.4 830.1 1314.2C832.1 1314.0 834.1 1313.8 836.1 1313.5C838.1 1313.3 840.1 1313.0 842.1 1312.7C844.1 1312.4 846.1 1312.0 848.1 1311.6C850.1 1311.2 852.0 1310.8 854.0 1310.3C856.0 1309.9 857.9 1309.4 859.9 1308.8C861.8 1308.3 863.8 1307.7 865.7 1307.1C867.6 1306.5 869.5 1305.8 871.4 1305.1C873.3 1304.4 875.2 1303.7 877.0 1302.9C878.9 1302.1 880.7 1301.3 882.5 1300.4C884.4 1299.5 886.2 1298.6 887.9 1297.7C889.7 1296.7 891.5 1295.8 893.2 1294.7C895.0 1293.7 896.7 1292.7 898.4 1291.6C900.1 1290.5 901.7 1289.3 903.4 1288.2C905.0 1287.0 906.7 1285.8 908.3 1284.6C909.8 1283.3 911.4 1282.0 913.0 1280.7C914.5 1279.4 916.0 1278.1 917.5 1276.7C919.0 1275.3 920.4 1273.9 921.8 1272.5C923.3 1271.1 924.7 1269.6 926.0 1268.1C927.4 1266.6 928.7 1265.1 930.0 1263.5C931.3 1262.0 933.1 1259.5 933.8 1258.8L933.8 1258.8C933.7 1259.8 933.5 1262.8 933.4 1264.8C933.3 1266.8 933.2 1268.8 933.0 1270.8C932.9 1272.8 932.8 1274.9 932.6 1276.9C932.5 1278.9 932.3 1280.9 932.1 1282.9C932.0 1284.9 931.8 1286.9 931.6 1288.9C931.4 1290.9 931.2 1292.9 931.0 1294.9C930.8 1296.9 930.6 1298.9 930.4 1300.9C930.1 1302.9 929.9 1304.9 929.7 1306.9C929.4 1308.9 929.2 1310.9 928.9 1312.9C928.7 1314.9 928.4 1316.9 928.1 1318.9C927.8 1320.9 927.5 1322.9 927.2 1324.9C926.9 1326.9 926.6 1328.9 926.3 1330.9C926.0 1332.9 925.7 1334.9 925.3 1336.8C925.0 1338.8 924.6 1340.8 924.3 1342.8C923.9 1344.8 923.6 1346.8 923.2 1348.7C922.8 1350.7 922.4 1352.7 922.0 1354.7C921.6 1356.6 921.2 1358.6 920.8 1360.6C920.4 1362.5 919.9 1364.5 919.5 1366.5C919.0 1368.4 918.6 1370.4 918.1 1372.4C917.7 1374.3 917.2 1376.3 916.7 1378.2C916.2 1380.2 915.7 1382.1 915.2 1384.1C914.7 1386.0 914.2 1388.0 913.7 1389.9C913.1 1391.9 912.6 1393.8 912.0 1395.7C911.5 1397.7 910.9 1399.6 910.3 1401.5C909.8 1403.5 909.2 1405.4 908.6 1407.3C908.0 1409.2 907.4 1411.2 906.7 1413.1C906.1 1415.0 905.5 1416.9 904.8 1418.8C904.2 1420.7 903.5 1422.7 902.9 1424.6C902.2 1426.5 901.5 1428.4 900.8 1430.3C900.1 1432.2 899.4 1434.1 898.7 1435.9C898.0 1437.8 897.2 1439.7 896.5 1441.6C895.7 1443.5 895.0 1445.4 894.2 1447.2C893.4 1449.1 892.6 1451.0 891.8 1452.8C891.0 1454.7 890.2 1456.5 889.4 1458.4C888.5 1460.2 887.7 1462.0 886.8 1463.8C885.9 1465.7 885.0 1467.5 884.1 1469.3C883.2 1471.1 882.3 1472.9 881.3 1474.6C880.4 1476.4 879.4 1478.2 878.4 1479.9C877.5 1481.7 876.5 1483.4 875.4 1485.1C874.4 1486.9 873.3 1488.6 872.3 1490.3C871.2 1492.0 870.1 1493.7 869.0 1495.3C867.9 1497.0 866.7 1498.6 865.6 1500.3C864.4 1501.9 863.2 1503.5 862.0 1505.1C860.8 1506.7 859.5 1508.3 858.3 1509.8C857.0 1511.4 855.7 1512.9 854.4 1514.4C853.1 1515.9 851.7 1517.4 850.4 1518.9C849.0 1520.4 847.6 1521.8 846.2 1523.3C844.8 1524.7 843.3 1526.1 841.9 1527.5C840.4 1529.0 838.9 1530.3 837.4 1531.7C836.0 1533.1 834.4 1534.4 832.9 1535.8C831.4 1537.1 829.9 1538.4 828.3 1539.7C826.8 1541.1 825.2 1542.3 823.6 1543.6C822.0 1544.9 820.5 1546.2 818.9 1547.4C817.3 1548.7 815.7 1549.9 814.1 1551.2C812.5 1552.4 810.9 1553.6 809.2 1554.8C807.6 1556.1 806.0 1557.3 804.4 1558.4C802.8 1559.6 801.2 1560.8 799.5 1562.0C797.9 1563.2 796.3 1564.4 794.6 1565.5C793.0 1566.7 791.4 1567.8 789.7 1569.0C788.1 1570.1 786.4 1571.3 784.8 1572.4C783.1 1573.6 781.5 1574.7 779.8 1575.9C778.2 1577.0 776.5 1578.1 774.9 1579.3C773.2 1580.4 771.5 1581.5 769.9 1582.7C768.2 1583.8 766.6 1584.9 764.9 1586.0C763.2 1587.2 761.6 1588.3 759.9 1589.4C758.2 1590.6 756.5 1591.7 754.9 1592.8C753.2 1593.9 751.5 1595.1 749.8 1596.2C748.1 1597.3 746.5 1598.4 744.8 1599.5C743.1 1600.6 741.4 1601.7 739.7 1602.8C738.0 1603.9 736.2 1604.9 734.5 1606.0C732.8 1607.1 731.1 1608.1 729.4 1609.2C727.6 1610.2 725.9 1611.2 724.2 1612.2C722.4 1613.3 720.7 1614.3 718.9 1615.3C717.2 1616.3 715.4 1617.3 713.7 1618.3C711.9 1619.3 710.1 1620.2 708.4 1621.2C706.6 1622.2 704.8 1623.1 703.1 1624.1C701.3 1625.0 699.5 1626.0 697.7 1626.9C695.9 1627.8 694.1 1628.7 692.3 1629.7C690.6 1630.6 688.8 1631.5 687.0 1632.4C685.2 1633.3 683.4 1634.2 681.6 1635.1C679.7 1636.0 677.9 1636.8 676.1 1637.7C674.3 1638.6 672.5 1639.4 670.7 1640.3C668.8 1641.1 667.0 1642.0 665.2 1642.8C663.4 1643.7 661.5 1644.5 659.7 1645.3C657.9 1646.2 656.0 1647.0 654.2 1647.8C652.3 1648.6 650.5 1649.4 648.6 1650.2C646.8 1651.0 644.9 1651.8 643.1 1652.5C641.2 1653.3 639.4 1654.1 637.5 1654.8C635.6 1655.6 633.8 1656.4 631.9 1657.1C630.0 1657.9 628.1 1658.6 626.3 1659.3C624.4 1660.1 622.5 1660.8 620.6 1661.5C618.7 1662.2 616.8 1662.9 614.9 1663.7C613.0 1664.4 611.1 1665.1 609.2 1665.7C607.3 1666.4 605.4 1667.1 603.5 1667.8C601.6 1668.5 599.7 1669.2 597.8 1669.9C595.9 1670.7 594.1 1671.4 592.2 1672.1C590.3 1672.9 588.4 1673.6 586.6 1674.4C584.7 1675.2 582.8 1676.0 581.0 1676.8C579.2 1677.6 577.4 1678.5 575.5 1679.3C573.7 1680.2 571.9 1681.2 570.2 1682.1C568.4 1683.1 566.7 1684.1 564.9 1685.1C563.2 1686.1 561.5 1687.2 559.8 1688.3C558.1 1689.5 556.5 1690.6 554.9 1691.8C553.2 1693.0 551.6 1694.3 550.1 1695.5C548.5 1696.8 547.0 1698.1 545.5 1699.5C544.0 1700.8 542.5 1702.2 541.1 1703.6C539.6 1705.0 538.2 1706.5 536.9 1708.0C535.5 1709.5 534.2 1711.0 533.0 1712.6C531.7 1714.1 530.5 1715.7 529.3 1717.3C528.1 1719.0 527.0 1720.6 525.9 1722.3C524.8 1724.0 523.8 1725.7 522.8 1727.4C521.8 1729.2 520.9 1730.9 520.0 1732.7C519.2 1734.5 518.4 1736.4 517.6 1738.2C516.8 1740.1 516.1 1741.9 515.4 1743.8C514.7 1745.7 514.1 1747.7 513.5 1749.6C512.9 1751.5 512.3 1753.5 511.8 1755.4C511.2 1757.4 510.7 1759.3 510.2 1761.3C509.7 1763.3 509.2 1765.3 508.8 1767.3C508.3 1769.2 507.8 1771.2 507.4 1773.2C506.9 1775.2 506.5 1777.2 506.1 1779.2C505.6 1781.2 505.2 1783.2 504.7 1785.1C504.2 1787.1 503.8 1789.1 503.3 1791.1C502.9 1793.0 502.4 1795.0 501.9 1796.9C501.5 1798.9 501.0 1800.8 500.5 1802.8C500.1 1804.7 499.6 1806.7 499.1 1808.6C498.7 1810.6 498.2 1812.6 497.8 1814.5C497.3 1816.5 496.9 1818.4 496.5 1820.4C496.0 1822.3 495.6 1824.3 495.2 1826.3C494.8 1828.2 494.3 1830.2 493.9 1832.1C493.5 1834.1 493.1 1836.1 492.7 1838.0C492.3 1840.0 491.9 1842.0 491.5 1844.0C491.1 1845.9 490.7 1847.9 490.3 1849.9C489.9 1851.8 489.6 1853.8 489.2 1855.8C488.8 1857.8 488.4 1859.7 488.0 1861.7C487.6 1863.7 487.2 1865.7 486.9 1867.7C486.5 1869.6 486.1 1871.6 485.7 1873.6C485.3 1875.6 484.9 1877.5 484.6 1879.5C484.2 1881.5 483.8 1883.5 483.4 1885.5C483.0 1887.4 482.6 1889.4 482.2 1891.4C481.8 1893.4 481.4 1895.3 481.0 1897.3C480.6 1899.3 480.2 1901.3 479.8 1903.2C479.4 1905.2 479.0 1907.2 478.6 1909.2C478.1 1911.1 477.7 1913.1 477.3 1915.1C476.9 1917.0 476.4 1919.0 476.0 1921.0C475.5 1922.9 475.1 1924.9 474.6 1926.9C474.2 1928.8 473.7 1930.8 473.2 1932.8C472.7 1934.7 472.2 1936.7 471.8 1938.6C471.3 1940.6 470.8 1942.5 470.2 1944.5C469.7 1946.4 469.2 1948.4 468.7 1950.3C468.1 1952.3 467.6 1954.2 467.0 1956.2C466.5 1958.1 465.9 1960.0 465.3 1962.0C464.7 1963.9 464.1 1965.8 463.5 1967.8C462.9 1969.7 462.3 1971.6 461.6 1973.5C461.0 1975.5 460.4 1977.4 459.7 1979.3C459.0 1981.2 458.3 1983.1 457.6 1985.0C456.8 1986.9 456.0 1988.7 455.1 1990.6C454.2 1992.4 453.2 1994.2 452.0 1995.9C450.9 1997.6 449.6 1999.4 448.2 2000.7C446.7 2002.1 445.2 2003.3 443.5 2004.0C441.8 2004.8 439.9 2005.1 438.1 2005.2C436.2 2005.2 434.2 2004.7 432.3 2004.1C430.3 2003.6 428.4 2002.7 426.4 2001.9C424.5 2001.2 422.6 2000.2 420.6 1999.5C418.7 1998.8 416.8 1998.0 414.8 1997.5C412.9 1997.1 410.9 1996.7 408.9 1996.6C407.0 1996.4 404.9 1996.4 403.0 1996.5C401.0 1996.7 399.0 1996.9 397.0 1997.3C395.0 1997.7 393.0 1998.2 391.0 1998.8C389.1 1999.3 387.1 2000.0 385.2 2000.7C383.3 2001.5 381.4 2002.3 379.6 2003.1C377.8 2003.9 375.9 2004.8 374.2 2005.7C372.4 2006.7 370.6 2007.6 368.9 2008.6C367.1 2009.6 365.4 2010.7 363.7 2011.7C362.0 2012.8 360.3 2013.9 358.6 2015.0C356.9 2016.1 355.3 2017.2 353.6 2018.3C351.9 2019.5 350.3 2020.6 348.6 2021.8C347.0 2023.0 345.4 2024.1 343.7 2025.3C342.1 2026.5 340.5 2027.7 338.9 2029.0C337.3 2030.2 335.7 2031.4 334.1 2032.6C332.4 2033.8 330.9 2035.1 329.3 2036.3C327.7 2037.5 325.3 2039.4 324.5 2040.0Z"/>
<path class="f" d="M207.20 1178.90 H1037.55M1034.70 1178.90 V2103.60M207.20 2087.60 H1034.70M223.20 1178.90 V2103.60M207.20 1481.80 H223.20M207.20 1784.70 H223.20M426.07 2087.60 V2103.60M628.95 2087.60 V2103.60M831.83 2087.60 V2103.60"/>
<text class="t" text-anchor="end" x="178.0" y="1196.5">0.4</text>
<text class="t" text-anchor="end" x="178.0" y="1499.4">0</text>
<text class="t" text-anchor="end" x="178.0" y="1802.3">-0.4</text>
<text class="t" text-anchor="end" x="178.0" y="2105.2">-0.8</text>
<text class="t" text-anchor="middle" x="223.2" y="2167.1">-1</text>
<text class="t" text-anchor="middle" x="426.1" y="2167.1">-0.6</text>
<text class="t" text-anchor="middle" x="629.0" y="2167.1">-0.2</text>
<text class="t" text-anchor="middle" x="831.8" y="2167.1">0.2</text>
<text class="t" text-anchor="middle" x="1034.7" y="2167.1">0.6</text>
<text class="n" x="241.0" y="1247.0">AFe6</text>
<text class="g" x="942.8" y="2062.2">(c)</text>
<text class="bx" x="462.2" y="2241.0" style="white-space:pre">E vs Ag/AgCl  (V)</text>
<text class="b" transform="translate(71.0 1719.5) rotate(-90)">I (mA)</text>
</g>
<g id="panel-d">
<path class="c" stroke="#a6a6a6" stroke-width="8.1" d="M1437.0 1557.5C1437.1 1556.5 1437.4 1553.6 1437.7 1551.6C1437.9 1549.6 1438.2 1547.6 1438.5 1545.6C1438.7 1543.6 1439.0 1541.6 1439.4 1539.6C1439.7 1537.6 1440.0 1535.6 1440.4 1533.6C1440.8 1531.6 1441.2 1529.6 1441.6 1527.6C1442.1 1525.6 1442.6 1523.6 1443.1 1521.6C1443.6 1519.7 1444.2 1517.7 1444.8 1515.7C1445.4 1513.8 1446.1 1511.8 1446.8 1509.9C1447.5 1508.0 1448.2 1506.1 1449.0 1504.3C1449.9 1502.4 1450.7 1500.6 1451.7 1498.8C1452.6 1497.0 1453.6 1495.3 1454.6 1493.6C1455.7 1491.9 1456.8 1490.2 1458.0 1488.6C1459.2 1487.0 1460.5 1485.5 1461.8 1484.0C1463.1 1482.5 1464.5 1481.0 1466.0 1479.6C1467.5 1478.2 1469.0 1476.9 1470.5 1475.6C1472.1 1474.3 1473.7 1473.1 1475.4 1471.9C1477.0 1470.8 1478.7 1469.6 1480.5 1468.6C1482.2 1467.5 1484.0 1466.5 1485.8 1465.6C1487.6 1464.7 1489.4 1463.8 1491.3 1463.0C1493.1 1462.2 1495.0 1461.4 1496.9 1460.7C1498.8 1460.0 1500.7 1459.4 1502.6 1458.8C1504.5 1458.2 1506.5 1457.6 1508.4 1457.1C1510.4 1456.6 1512.3 1456.1 1514.3 1455.7C1516.3 1455.3 1518.3 1454.9 1520.3 1454.5C1522.3 1454.2 1524.3 1453.8 1526.3 1453.5C1528.3 1453.2 1530.3 1452.9 1532.3 1452.7C1534.3 1452.4 1536.3 1452.2 1538.4 1451.9C1540.4 1451.7 1542.4 1451.5 1544.4 1451.3C1546.4 1451.1 1548.4 1450.9 1550.5 1450.7C1552.5 1450.5 1554.5 1450.4 1556.5 1450.2C1558.5 1450.1 1560.6 1449.9 1562.6 1449.8C1564.6 1449.7 1566.6 1449.6 1568.6 1449.5C1570.6 1449.4 1572.7 1449.3 1574.7 1449.2C1576.7 1449.1 1578.7 1449.1 1580.7 1449.0C1582.7 1448.9 1584.8 1448.9 1586.8 1448.9C1588.8 1448.8 1590.8 1448.8 1592.8 1448.8C1594.8 1448.8 1596.9 1448.8 1598.9 1448.8C1600.9 1448.8 1602.9 1448.8 1604.9 1448.8C1607.0 1448.8 1609.0 1448.8 1611.0 1448.9C1613.0 1448.9 1615.0 1448.9 1617.0 1449.0C1619.1 1449.0 1621.1 1449.1 1623.1 1449.1C1625.1 1449.2 1627.1 1449.3 1629.1 1449.3C1631.2 1449.4 1633.2 1449.5 1635.2 1449.6C1637.2 1449.7 1639.2 1449.8 1641.3 1449.9C1643.3 1450.0 1645.3 1450.1 1647.3 1450.2C1649.3 1450.3 1651.3 1450.4 1653.4 1450.5C1655.4 1450.6 1657.4 1450.7 1659.4 1450.8C1661.4 1450.9 1663.4 1451.1 1665.5 1451.2C1667.5 1451.3 1669.5 1451.4 1671.5 1451.6C1673.5 1451.7 1675.6 1451.8 1677.6 1452.0C1679.6 1452.1 1681.6 1452.2 1683.6 1452.4C1685.6 1452.5 1687.7 1452.6 1689.7 1452.8C1691.7 1452.9 1693.7 1453.1 1695.7 1453.2C1697.8 1453.3 1699.8 1453.5 1701.8 1453.6C1703.8 1453.7 1705.8 1453.9 1707.8 1454.0C1709.9 1454.1 1711.9 1454.3 1713.9 1454.4C1715.9 1454.5 1717.9 1454.6 1720.0 1454.8C1722.0 1454.9 1724.0 1455.0 1726.0 1455.1C1728.0 1455.3 1730.0 1455.4 1732.1 1455.5C1734.1 1455.6 1736.1 1455.7 1738.1 1455.8C1740.1 1456.0 1742.1 1456.1 1744.2 1456.2C1746.2 1456.3 1748.2 1456.4 1750.2 1456.5C1752.2 1456.6 1754.3 1456.7 1756.3 1456.8C1758.3 1456.9 1760.3 1456.9 1762.3 1457.0C1764.3 1457.1 1766.4 1457.2 1768.4 1457.3C1770.4 1457.3 1772.4 1457.4 1774.4 1457.5C1776.4 1457.5 1778.5 1457.6 1780.5 1457.6C1782.5 1457.6 1784.5 1457.6 1786.5 1457.6C1788.5 1457.6 1790.6 1457.5 1792.6 1457.5C1794.6 1457.4 1796.6 1457.3 1798.6 1457.2C1800.6 1457.1 1802.6 1456.9 1804.6 1456.7C1806.6 1456.5 1808.6 1456.3 1810.6 1456.0C1812.6 1455.8 1814.6 1455.5 1816.6 1455.2C1818.6 1454.9 1820.6 1454.6 1822.6 1454.3C1824.6 1454.0 1826.6 1453.7 1828.6 1453.4C1830.6 1453.1 1832.6 1452.8 1834.6 1452.5C1836.7 1452.2 1838.7 1451.9 1840.7 1451.7C1842.7 1451.5 1844.7 1451.2 1846.7 1451.1C1848.7 1450.9 1850.7 1450.7 1852.7 1450.5C1854.7 1450.4 1856.8 1450.3 1858.8 1450.2C1860.8 1450.1 1862.8 1450.0 1864.8 1449.9C1866.8 1449.9 1868.8 1449.8 1870.9 1449.8C1872.9 1449.8 1874.9 1449.8 1876.9 1449.8C1878.9 1449.8 1881.0 1449.8 1883.0 1449.8C1885.0 1449.9 1887.0 1449.9 1889.0 1450.0C1891.0 1450.0 1893.1 1450.1 1895.1 1450.2C1897.1 1450.3 1899.1 1450.4 1901.1 1450.5C1903.2 1450.6 1905.2 1450.7 1907.2 1450.9C1909.2 1451.0 1911.2 1451.1 1913.3 1451.3C1915.3 1451.4 1917.3 1451.5 1919.3 1451.7C1921.3 1451.8 1923.4 1452.0 1925.4 1452.1C1927.4 1452.3 1929.4 1452.5 1931.4 1452.6C1933.5 1452.8 1935.5 1452.9 1937.5 1453.1C1939.5 1453.2 1941.5 1453.4 1943.6 1453.6C1945.6 1453.7 1947.6 1453.9 1949.6 1454.0C1951.6 1454.2 1953.7 1454.3 1955.7 1454.5C1957.7 1454.6 1959.7 1454.7 1961.7 1454.9C1963.7 1455.0 1965.8 1455.1 1967.8 1455.2C1969.8 1455.4 1971.8 1455.5 1973.8 1455.6C1975.8 1455.7 1977.9 1455.7 1979.9 1455.8C1981.9 1455.9 1983.9 1456.0 1985.9 1456.0C1987.9 1456.1 1990.0 1456.1 1992.0 1456.1C1994.0 1456.1 1996.0 1456.1 1998.0 1456.1C2000.0 1456.1 2002.0 1456.1 2004.0 1456.1C2006.1 1456.0 2008.1 1456.0 2010.1 1455.9C2012.1 1455.8 2014.1 1455.7 2016.1 1455.6C2018.1 1455.5 2020.1 1455.3 2022.2 1455.2C2024.2 1455.0 2026.2 1454.8 2028.2 1454.6C2030.2 1454.4 2032.2 1454.1 2034.2 1453.9C2036.2 1453.6 2038.2 1453.3 2040.2 1453.0C2042.2 1452.7 2045.2 1452.2 2046.2 1452.0L2046.2 1452.0C2046.2 1453.0 2046.2 1456.1 2045.9 1458.1C2045.5 1460.1 2045.0 1462.2 2044.2 1464.1C2043.5 1466.0 2042.5 1467.9 2041.4 1469.6C2040.2 1471.2 2038.9 1472.7 2037.4 1474.0C2036.0 1475.3 2034.3 1476.4 2032.6 1477.4C2030.9 1478.5 2029.1 1479.3 2027.2 1480.1C2025.3 1481.0 2023.4 1481.6 2021.4 1482.3C2019.5 1483.0 2017.5 1483.6 2015.6 1484.2C2013.6 1484.8 2011.6 1485.3 2009.6 1485.8C2007.7 1486.3 2005.7 1486.8 2003.7 1487.3C2001.7 1487.7 1999.8 1488.1 1997.8 1488.5C1995.8 1488.9 1993.8 1489.3 1991.8 1489.7C1989.8 1490.0 1987.8 1490.3 1985.8 1490.7C1983.8 1491.0 1981.8 1491.3 1979.8 1491.6C1977.8 1491.9 1975.8 1492.1 1973.8 1492.4C1971.8 1492.7 1969.8 1492.9 1967.8 1493.2C1965.8 1493.5 1963.8 1493.7 1961.8 1494.0C1959.8 1494.2 1957.8 1494.5 1955.7 1494.8C1953.7 1495.0 1951.7 1495.3 1949.7 1495.6C1947.7 1495.9 1945.7 1496.1 1943.7 1496.4C1941.7 1496.7 1939.7 1497.1 1937.7 1497.4C1935.7 1497.7 1933.7 1498.0 1931.7 1498.3C1929.7 1498.7 1927.7 1499.0 1925.7 1499.3C1923.7 1499.7 1921.7 1500.0 1919.7 1500.4C1917.7 1500.7 1915.7 1501.1 1913.7 1501.4C1911.7 1501.8 1909.7 1502.2 1907.7 1502.5C1905.7 1502.9 1903.7 1503.2 1901.7 1503.6C1899.7 1504.0 1897.7 1504.4 1895.7 1504.7C1893.7 1505.1 1891.7 1505.4 1889.7 1505.8C1887.7 1506.1 1885.7 1506.4 1883.7 1506.7C1881.7 1507.0 1879.7 1507.2 1877.7 1507.4C1875.7 1507.6 1873.7 1507.8 1871.7 1507.9C1869.7 1508.1 1867.7 1508.1 1865.6 1508.2C1863.6 1508.3 1861.6 1508.3 1859.6 1508.4C1857.5 1508.5 1855.5 1508.5 1853.5 1508.7C1851.5 1508.8 1849.5 1508.9 1847.4 1509.1C1845.4 1509.2 1843.4 1509.4 1841.4 1509.6C1839.4 1509.8 1837.4 1510.0 1835.4 1510.2C1833.3 1510.4 1831.3 1510.6 1829.3 1510.8C1827.3 1511.0 1825.3 1511.3 1823.3 1511.5C1821.3 1511.7 1819.2 1511.9 1817.2 1512.1C1815.2 1512.3 1813.2 1512.4 1811.2 1512.6C1809.1 1512.7 1807.1 1512.9 1805.1 1513.0C1803.1 1513.1 1801.0 1513.3 1799.0 1513.4C1797.0 1513.5 1795.0 1513.6 1792.9 1513.7C1790.9 1513.8 1788.9 1513.9 1786.9 1514.1C1784.8 1514.2 1782.8 1514.3 1780.8 1514.4C1778.8 1514.6 1776.8 1514.7 1774.7 1514.9C1772.7 1515.0 1770.7 1515.2 1768.7 1515.3C1766.7 1515.5 1764.6 1515.6 1762.6 1515.8C1760.6 1516.0 1758.6 1516.2 1756.6 1516.3C1754.5 1516.5 1752.5 1516.7 1750.5 1516.9C1748.5 1517.1 1746.5 1517.3 1744.5 1517.5C1742.4 1517.7 1740.4 1517.9 1738.4 1518.1C1736.4 1518.3 1734.4 1518.6 1732.4 1518.8C1730.4 1519.0 1728.3 1519.2 1726.3 1519.4C1724.3 1519.7 1722.3 1519.9 1720.3 1520.1C1718.3 1520.4 1716.3 1520.6 1714.3 1520.9C1712.2 1521.1 1710.2 1521.4 1708.2 1521.6C1706.2 1521.9 1704.2 1522.1 1702.2 1522.4C1700.2 1522.6 1698.2 1522.9 1696.2 1523.1C1694.1 1523.4 1692.1 1523.7 1690.1 1523.9C1688.1 1524.2 1686.1 1524.4 1684.1 1524.7C1682.1 1525.0 1680.1 1525.3 1678.1 1525.5C1676.1 1525.8 1674.1 1526.1 1672.0 1526.3C1670.0 1526.6 1668.0 1526.9 1666.0 1527.2C1664.0 1527.4 1662.0 1527.7 1660.0 1528.0C1658.0 1528.2 1656.0 1528.5 1654.0 1528.8C1652.0 1529.1 1650.0 1529.3 1647.9 1529.6C1645.9 1529.9 1643.9 1530.2 1641.9 1530.4C1639.9 1530.7 1637.9 1531.0 1635.9 1531.3C1633.9 1531.5 1631.9 1531.8 1629.9 1532.1C1627.9 1532.3 1625.9 1532.6 1623.8 1532.9C1621.8 1533.1 1619.8 1533.4 1617.8 1533.7C1615.8 1533.9 1613.8 1534.2 1611.8 1534.5C1609.8 1534.7 1607.8 1535.0 1605.8 1535.2C1603.7 1535.5 1601.7 1535.7 1599.7 1536.0C1597.7 1536.2 1595.7 1536.5 1593.7 1536.7C1591.7 1537.0 1589.7 1537.2 1587.7 1537.5C1585.6 1537.7 1583.6 1538.0 1581.6 1538.2C1579.6 1538.4 1577.6 1538.7 1575.6 1538.9C1573.6 1539.2 1571.6 1539.4 1569.5 1539.7C1567.5 1539.9 1565.5 1540.1 1563.5 1540.4C1561.5 1540.6 1559.5 1540.8 1557.5 1541.1C1555.5 1541.3 1553.4 1541.6 1551.4 1541.8C1549.4 1542.0 1547.4 1542.3 1545.4 1542.5C1543.4 1542.8 1541.4 1543.0 1539.4 1543.2C1537.4 1543.5 1535.3 1543.7 1533.3 1544.0C1531.3 1544.2 1529.3 1544.5 1527.3 1544.7C1525.3 1545.0 1523.3 1545.2 1521.3 1545.5C1519.2 1545.7 1517.2 1546.0 1515.2 1546.2C1513.2 1546.5 1511.2 1546.7 1509.2 1547.0C1507.2 1547.2 1505.2 1547.5 1503.2 1547.7C1501.2 1548.0 1499.2 1548.3 1497.1 1548.5C1495.1 1548.8 1493.1 1549.1 1491.1 1549.3C1489.1 1549.6 1487.1 1549.9 1485.1 1550.2C1483.1 1550.4 1481.1 1550.7 1479.1 1551.0C1477.1 1551.3 1475.1 1551.6 1473.1 1551.8C1471.0 1552.1 1469.0 1552.4 1467.0 1552.7C1465.0 1553.0 1463.0 1553.3 1461.0 1553.6C1459.0 1553.9 1457.0 1554.2 1455.0 1554.6C1453.0 1554.9 1451.0 1555.2 1449.0 1555.5C1447.0 1555.8 1445.0 1556.2 1443.0 1556.5C1441.0 1556.8 1438.0 1557.3 1437.0 1557.5Z"/>
<path class="c" stroke="#000" stroke-width="8.8" d="M1436.2 1986.2C1436.3 1985.2 1436.5 1982.2 1436.7 1980.2C1436.9 1978.2 1437.0 1976.2 1437.2 1974.2C1437.3 1972.2 1437.5 1970.2 1437.7 1968.2C1437.9 1966.2 1438.0 1964.2 1438.2 1962.2C1438.4 1960.2 1438.6 1958.1 1438.8 1956.1C1438.9 1954.1 1439.1 1952.1 1439.3 1950.1C1439.5 1948.1 1439.7 1946.1 1439.9 1944.1C1440.1 1942.1 1440.3 1940.1 1440.5 1938.1C1440.7 1936.1 1440.9 1934.1 1441.1 1932.1C1441.3 1930.1 1441.6 1928.1 1441.8 1926.1C1442.0 1924.1 1442.2 1922.1 1442.4 1920.1C1442.7 1918.1 1442.9 1916.1 1443.1 1914.1C1443.4 1912.1 1443.6 1910.1 1443.8 1908.1C1444.1 1906.1 1444.3 1904.1 1444.5 1902.1C1444.8 1900.1 1445.0 1898.1 1445.3 1896.1C1445.5 1894.1 1445.8 1892.1 1446.0 1890.1C1446.3 1888.1 1446.5 1886.1 1446.8 1884.1C1447.0 1882.1 1447.3 1880.1 1447.6 1878.1C1447.8 1876.2 1448.1 1874.2 1448.4 1872.2C1448.6 1870.2 1448.9 1868.2 1449.2 1866.2C1449.4 1864.2 1449.7 1862.2 1450.0 1860.2C1450.3 1858.2 1450.5 1856.2 1450.8 1854.2C1451.1 1852.2 1451.4 1850.2 1451.7 1848.2C1451.9 1846.2 1452.2 1844.3 1452.5 1842.3C1452.8 1840.3 1453.1 1838.3 1453.4 1836.3C1453.7 1834.3 1454.0 1832.3 1454.3 1830.3C1454.6 1828.3 1454.9 1826.3 1455.2 1824.3C1455.5 1822.3 1455.8 1820.4 1456.1 1818.4C1456.4 1816.4 1456.7 1814.4 1457.0 1812.4C1457.3 1810.4 1457.6 1808.4 1457.9 1806.4C1458.2 1804.4 1458.5 1802.4 1458.8 1800.5C1459.1 1798.5 1459.4 1796.5 1459.8 1794.5C1460.1 1792.5 1460.4 1790.5 1460.7 1788.5C1461.0 1786.5 1461.3 1784.5 1461.7 1782.6C1462.0 1780.6 1462.3 1778.6 1462.6 1776.6C1463.0 1774.6 1463.3 1772.6 1463.6 1770.6C1463.9 1768.6 1464.3 1766.7 1464.6 1764.7C1464.9 1762.7 1465.3 1760.7 1465.6 1758.7C1465.9 1756.7 1466.3 1754.7 1466.6 1752.8C1467.0 1750.8 1467.3 1748.8 1467.7 1746.8C1468.0 1744.8 1468.3 1742.8 1468.7 1740.9C1469.0 1738.9 1469.4 1736.9 1469.8 1734.9C1470.1 1732.9 1470.5 1730.9 1470.8 1729.0C1471.2 1727.0 1471.5 1725.0 1471.9 1723.0C1472.3 1721.0 1472.6 1719.1 1473.0 1717.1C1473.4 1715.1 1473.8 1713.1 1474.1 1711.1C1474.5 1709.2 1474.9 1707.2 1475.3 1705.2C1475.7 1703.2 1476.0 1701.3 1476.4 1699.3C1476.8 1697.3 1477.2 1695.3 1477.6 1693.4C1478.0 1691.4 1478.4 1689.4 1478.8 1687.4C1479.2 1685.5 1479.6 1683.5 1480.0 1681.5C1480.4 1679.6 1480.8 1677.6 1481.2 1675.6C1481.6 1673.6 1482.0 1671.7 1482.5 1669.7C1482.9 1667.7 1483.3 1665.8 1483.7 1663.8C1484.2 1661.8 1484.6 1659.9 1485.0 1657.9C1485.5 1655.9 1485.9 1654.0 1486.3 1652.0C1486.8 1650.0 1487.2 1648.1 1487.7 1646.1C1488.1 1644.2 1488.6 1642.2 1489.0 1640.2C1489.5 1638.3 1489.9 1636.3 1490.4 1634.4C1490.8 1632.4 1491.3 1630.4 1491.8 1628.5C1492.3 1626.5 1492.7 1624.6 1493.2 1622.6C1493.7 1620.7 1494.2 1618.7 1494.7 1616.8C1495.2 1614.8 1495.7 1612.9 1496.2 1610.9C1496.7 1609.0 1497.2 1607.0 1497.7 1605.1C1498.2 1603.1 1498.7 1601.2 1499.2 1599.2C1499.8 1597.3 1500.3 1595.4 1500.8 1593.4C1501.4 1591.5 1501.9 1589.6 1502.5 1587.6C1503.0 1585.7 1503.6 1583.8 1504.2 1581.8C1504.7 1579.9 1505.3 1578.0 1505.9 1576.1C1506.5 1574.1 1507.1 1572.2 1507.7 1570.3C1508.3 1568.4 1508.9 1566.5 1509.5 1564.5C1510.2 1562.6 1510.8 1560.7 1511.5 1558.8C1512.1 1556.9 1512.8 1555.0 1513.4 1553.1C1514.1 1551.2 1514.8 1549.3 1515.4 1547.4C1516.1 1545.5 1516.8 1543.6 1517.5 1541.8C1518.3 1539.9 1519.0 1538.0 1519.7 1536.1C1520.4 1534.2 1521.2 1532.3 1521.9 1530.5C1522.7 1528.6 1523.5 1526.7 1524.3 1524.9C1525.0 1523.0 1525.8 1521.1 1526.6 1519.3C1527.5 1517.4 1528.3 1515.6 1529.1 1513.7C1530.0 1511.9 1530.8 1510.1 1531.7 1508.2C1532.6 1506.4 1533.4 1504.6 1534.3 1502.7C1535.2 1500.9 1536.2 1499.1 1537.1 1497.3C1538.0 1495.5 1539.0 1493.8 1540.0 1492.0C1541.0 1490.2 1542.0 1488.5 1543.0 1486.7C1544.0 1485.0 1545.1 1483.3 1546.1 1481.6C1547.2 1479.9 1548.3 1478.2 1549.4 1476.5C1550.6 1474.9 1551.7 1473.2 1552.9 1471.6C1554.1 1470.0 1555.3 1468.4 1556.5 1466.8C1557.7 1465.2 1559.0 1463.7 1560.3 1462.2C1561.6 1460.6 1562.9 1459.1 1564.3 1457.7C1565.6 1456.2 1567.0 1454.8 1568.4 1453.3C1569.8 1451.9 1571.3 1450.5 1572.7 1449.2C1574.2 1447.8 1575.7 1446.4 1577.2 1445.1C1578.7 1443.8 1580.2 1442.5 1581.8 1441.2C1583.3 1440.0 1584.9 1438.7 1586.5 1437.5C1588.1 1436.3 1589.7 1435.1 1591.4 1433.9C1593.0 1432.7 1594.7 1431.6 1596.3 1430.5C1598.0 1429.3 1599.7 1428.2 1601.4 1427.1C1603.1 1426.1 1604.8 1425.0 1606.6 1423.9C1608.3 1422.9 1610.0 1421.9 1611.8 1420.9C1613.5 1419.9 1615.3 1418.9 1617.1 1417.9C1618.8 1416.9 1620.6 1415.9 1622.4 1415.0C1624.2 1414.0 1626.0 1413.1 1627.7 1412.1C1629.5 1411.1 1631.3 1410.2 1633.1 1409.3C1634.9 1408.3 1636.7 1407.4 1638.5 1406.4C1640.2 1405.4 1642.0 1404.5 1643.8 1403.5C1645.6 1402.6 1647.3 1401.6 1649.1 1400.6C1650.9 1399.6 1652.6 1398.6 1654.3 1397.6C1656.1 1396.6 1657.8 1395.6 1659.5 1394.5C1661.2 1393.5 1663.0 1392.5 1664.7 1391.4C1666.4 1390.3 1668.0 1389.3 1669.7 1388.2C1671.4 1387.1 1673.1 1386.0 1674.7 1384.9C1676.4 1383.8 1678.0 1382.6 1679.7 1381.5C1681.3 1380.3 1683.0 1379.2 1684.6 1378.0C1686.2 1376.8 1687.8 1375.6 1689.4 1374.4C1691.0 1373.2 1692.6 1372.0 1694.2 1370.8C1695.8 1369.5 1697.3 1368.3 1698.9 1367.0C1700.4 1365.8 1702.0 1364.5 1703.5 1363.2C1705.1 1361.9 1706.6 1360.6 1708.1 1359.3C1709.7 1357.9 1711.2 1356.6 1712.7 1355.3C1714.2 1353.9 1715.7 1352.6 1717.2 1351.2C1718.8 1349.9 1720.3 1348.6 1721.8 1347.2C1723.3 1345.9 1724.8 1344.5 1726.3 1343.2C1727.8 1341.8 1729.4 1340.5 1730.9 1339.1C1732.4 1337.8 1734.0 1336.5 1735.5 1335.1C1737.0 1333.8 1738.6 1332.5 1740.1 1331.2C1741.7 1329.9 1743.3 1328.6 1744.8 1327.4C1746.4 1326.1 1748.0 1324.9 1749.6 1323.6C1751.2 1322.4 1752.8 1321.2 1754.5 1320.0C1756.1 1318.9 1757.7 1317.7 1759.4 1316.6C1761.0 1315.5 1762.7 1314.4 1764.4 1313.3C1766.1 1312.2 1767.8 1311.2 1769.6 1310.2C1771.3 1309.2 1773.1 1308.3 1774.8 1307.3C1776.6 1306.4 1778.4 1305.5 1780.2 1304.7C1782.0 1303.8 1783.8 1303.0 1785.7 1302.2C1787.5 1301.4 1789.4 1300.6 1791.2 1299.9C1793.1 1299.2 1795.0 1298.5 1796.9 1297.8C1798.7 1297.1 1800.6 1296.5 1802.6 1295.9C1804.5 1295.3 1806.4 1294.7 1808.3 1294.1C1810.3 1293.6 1812.2 1293.1 1814.2 1292.6C1816.1 1292.1 1818.1 1291.6 1820.0 1291.2C1822.0 1290.7 1824.0 1290.3 1825.9 1289.9C1827.9 1289.5 1829.9 1289.2 1831.9 1288.8C1833.8 1288.5 1835.8 1288.1 1837.8 1287.8C1839.8 1287.5 1841.8 1287.2 1843.8 1286.9C1845.8 1286.6 1847.8 1286.4 1849.8 1286.1C1851.8 1285.8 1853.8 1285.6 1855.8 1285.3C1857.9 1285.1 1859.9 1284.8 1861.9 1284.6C1863.9 1284.4 1865.9 1284.1 1867.9 1283.9C1869.9 1283.7 1871.9 1283.5 1873.9 1283.2C1875.9 1283.0 1877.9 1282.8 1879.9 1282.5C1882.0 1282.3 1884.0 1282.1 1886.0 1281.8C1888.0 1281.6 1890.0 1281.4 1892.0 1281.1C1894.0 1280.9 1896.0 1280.6 1898.0 1280.4C1900.0 1280.1 1902.0 1279.9 1903.9 1279.6C1905.9 1279.4 1907.9 1279.2 1909.9 1278.9C1911.9 1278.7 1913.9 1278.4 1915.9 1278.2C1917.9 1277.9 1919.9 1277.6 1921.9 1277.4C1923.9 1277.1 1925.9 1276.9 1927.9 1276.6C1929.9 1276.4 1931.9 1276.1 1933.9 1275.9C1935.8 1275.6 1937.8 1275.4 1939.8 1275.1C1941.8 1274.9 1943.8 1274.6 1945.8 1274.4C1947.8 1274.1 1949.8 1273.8 1951.8 1273.6C1953.8 1273.3 1955.8 1273.1 1957.8 1272.8C1959.8 1272.6 1961.8 1272.3 1963.8 1272.1C1965.8 1271.8 1967.8 1271.6 1969.8 1271.3C1971.8 1271.1 1973.8 1270.8 1975.8 1270.6C1977.8 1270.3 1979.8 1270.1 1981.8 1269.8C1983.8 1269.6 1985.8 1269.3 1987.8 1269.1C1989.8 1268.8 1991.8 1268.6 1993.8 1268.3C1995.8 1268.0 1997.8 1267.7 1999.8 1267.4C2001.7 1267.1 2003.7 1266.8 2005.7 1266.4C2007.7 1266.1 2009.7 1265.7 2011.6 1265.4C2013.6 1265.0 2015.6 1264.6 2017.5 1264.1C2019.5 1263.7 2021.5 1263.2 2023.4 1262.7C2025.3 1262.2 2027.3 1261.7 2029.2 1261.1C2031.1 1260.6 2033.0 1260.0 2034.9 1259.3C2036.9 1258.7 2038.8 1258.0 2040.6 1257.3C2042.5 1256.6 2045.3 1255.4 2046.2 1255.0L2046.2 1255.0C2046.2 1256.0 2046.1 1259.0 2046.0 1261.0C2045.9 1263.1 2045.7 1265.1 2045.6 1267.1C2045.5 1269.1 2045.4 1271.1 2045.2 1273.1C2045.1 1275.1 2045.0 1277.2 2044.8 1279.2C2044.7 1281.2 2044.5 1283.2 2044.3 1285.2C2044.2 1287.2 2044.0 1289.2 2043.8 1291.2C2043.6 1293.2 2043.4 1295.2 2043.2 1297.2C2043.0 1299.2 2042.8 1301.2 2042.6 1303.2C2042.4 1305.2 2042.1 1307.2 2041.9 1309.2C2041.7 1311.2 2041.4 1313.2 2041.2 1315.2C2040.9 1317.2 2040.7 1319.2 2040.4 1321.2C2040.1 1323.2 2039.8 1325.2 2039.6 1327.1C2039.3 1329.1 2039.0 1331.1 2038.7 1333.1C2038.4 1335.1 2038.1 1337.1 2037.7 1339.1C2037.4 1341.0 2037.1 1343.0 2036.8 1345.0C2036.4 1347.0 2036.1 1349.0 2035.7 1350.9C2035.4 1352.9 2035.0 1354.9 2034.7 1356.9C2034.3 1358.8 2033.9 1360.8 2033.5 1362.8C2033.2 1364.8 2032.8 1366.7 2032.4 1368.7C2032.0 1370.7 2031.5 1372.6 2031.1 1374.6C2030.7 1376.6 2030.3 1378.5 2029.8 1380.5C2029.4 1382.5 2029.0 1384.4 2028.5 1386.4C2028.1 1388.3 2027.6 1390.3 2027.1 1392.2C2026.7 1394.2 2026.2 1396.2 2025.7 1398.1C2025.2 1400.1 2024.7 1402.0 2024.2 1404.0C2023.7 1405.9 2023.2 1407.8 2022.7 1409.8C2022.2 1411.7 2021.6 1413.7 2021.1 1415.6C2020.6 1417.6 2020.0 1419.5 2019.5 1421.4C2018.9 1423.4 2018.4 1425.3 2017.8 1427.2C2017.2 1429.2 2016.6 1431.1 2016.1 1433.0C2015.5 1435.0 2014.9 1436.9 2014.3 1438.8C2013.7 1440.8 2013.1 1442.7 2012.4 1444.6C2011.8 1446.5 2011.2 1448.4 2010.5 1450.4C2009.9 1452.3 2009.3 1454.2 2008.6 1456.1C2007.9 1458.0 2007.3 1459.9 2006.6 1461.8C2005.9 1463.7 2005.2 1465.6 2004.5 1467.5C2003.8 1469.4 2003.1 1471.3 2002.4 1473.2C2001.7 1475.1 2000.9 1477.0 2000.2 1478.8C1999.5 1480.7 1998.7 1482.6 1997.9 1484.5C1997.2 1486.3 1996.4 1488.2 1995.6 1490.0C1994.8 1491.9 1994.0 1493.7 1993.2 1495.6C1992.4 1497.4 1991.5 1499.3 1990.7 1501.1C1989.9 1502.9 1989.0 1504.7 1988.1 1506.6C1987.3 1508.4 1986.4 1510.2 1985.5 1512.0C1984.6 1513.8 1983.7 1515.6 1982.7 1517.3C1981.8 1519.1 1980.9 1520.9 1979.9 1522.7C1979.0 1524.4 1978.0 1526.2 1977.0 1527.9C1976.0 1529.7 1975.0 1531.4 1974.0 1533.1C1973.0 1534.9 1972.0 1536.6 1970.9 1538.3C1969.9 1540.0 1968.8 1541.7 1967.7 1543.4C1966.7 1545.0 1965.6 1546.7 1964.4 1548.4C1963.3 1550.0 1962.2 1551.7 1961.0 1553.3C1959.9 1555.0 1958.7 1556.6 1957.6 1558.2C1956.4 1559.8 1955.2 1561.4 1953.9 1563.0C1952.7 1564.6 1951.5 1566.2 1950.2 1567.8C1949.0 1569.3 1947.7 1570.9 1946.4 1572.4C1945.1 1573.9 1943.8 1575.5 1942.5 1577.0C1941.1 1578.5 1939.8 1580.0 1938.4 1581.5C1937.0 1582.9 1935.7 1584.4 1934.3 1585.9C1932.9 1587.3 1931.4 1588.8 1930.0 1590.2C1928.6 1591.6 1927.1 1593.0 1925.7 1594.4C1924.2 1595.8 1922.7 1597.2 1921.3 1598.6C1919.8 1600.0 1918.3 1601.3 1916.7 1602.7C1915.2 1604.0 1913.7 1605.4 1912.2 1606.7C1910.6 1608.0 1909.1 1609.3 1907.5 1610.6C1905.9 1611.9 1904.4 1613.2 1902.8 1614.4C1901.2 1615.7 1899.6 1617.0 1898.0 1618.2C1896.4 1619.4 1894.8 1620.7 1893.2 1621.9C1891.6 1623.1 1889.9 1624.3 1888.3 1625.5C1886.7 1626.7 1885.0 1627.8 1883.4 1629.0C1881.7 1630.1 1880.1 1631.3 1878.4 1632.4C1876.7 1633.6 1875.1 1634.7 1873.4 1635.8C1871.7 1636.9 1870.0 1638.0 1868.4 1639.0C1866.7 1640.1 1865.0 1641.2 1863.3 1642.2C1861.6 1643.2 1859.8 1644.3 1858.1 1645.3C1856.4 1646.3 1854.7 1647.3 1852.9 1648.2C1851.2 1649.2 1849.4 1650.2 1847.7 1651.1C1845.9 1652.0 1844.1 1652.9 1842.3 1653.8C1840.5 1654.7 1838.7 1655.6 1836.9 1656.5C1835.1 1657.3 1833.3 1658.1 1831.4 1658.9C1829.6 1659.8 1827.8 1660.5 1825.9 1661.3C1824.0 1662.1 1822.2 1662.8 1820.3 1663.6C1818.4 1664.3 1816.5 1665.0 1814.6 1665.7C1812.7 1666.5 1810.8 1667.1 1808.9 1667.8C1807.0 1668.5 1805.1 1669.1 1803.2 1669.8C1801.3 1670.4 1799.3 1671.1 1797.4 1671.7C1795.5 1672.3 1793.5 1672.9 1791.6 1673.5C1789.7 1674.1 1787.7 1674.7 1785.8 1675.3C1783.8 1675.9 1781.9 1676.4 1780.0 1677.0C1778.0 1677.5 1776.1 1678.1 1774.1 1678.6C1772.2 1679.2 1770.2 1679.7 1768.3 1680.2C1766.4 1680.8 1764.4 1681.3 1762.5 1681.8C1760.6 1682.3 1758.6 1682.9 1756.7 1683.4C1754.8 1683.9 1752.8 1684.4 1750.9 1684.9C1749.0 1685.4 1747.1 1685.9 1745.1 1686.4C1743.2 1686.9 1741.3 1687.4 1739.3 1687.9C1737.4 1688.4 1735.5 1688.9 1733.5 1689.4C1731.6 1689.9 1729.7 1690.3 1727.7 1690.8C1725.8 1691.3 1723.8 1691.8 1721.8 1692.3C1719.9 1692.8 1717.9 1693.3 1715.9 1693.8C1714.0 1694.3 1712.0 1694.7 1710.0 1695.2C1708.0 1695.7 1706.0 1696.2 1704.0 1696.8C1702.0 1697.3 1700.1 1697.9 1698.1 1698.5C1696.2 1699.1 1694.2 1699.7 1692.3 1700.4C1690.5 1701.1 1688.6 1701.9 1686.8 1702.7C1685.0 1703.5 1683.2 1704.4 1681.6 1705.5C1679.9 1706.5 1678.2 1707.6 1676.7 1708.8C1675.1 1710.0 1673.7 1711.4 1672.3 1712.8C1670.9 1714.2 1669.6 1715.8 1668.3 1717.3C1667.0 1718.9 1665.8 1720.6 1664.7 1722.3C1663.5 1724.0 1662.4 1725.7 1661.3 1727.4C1660.2 1729.1 1659.1 1730.9 1658.1 1732.6C1657.0 1734.4 1656.0 1736.1 1655.0 1737.9C1654.0 1739.7 1653.1 1741.4 1652.1 1743.2C1651.2 1745.0 1650.3 1746.8 1649.4 1748.6C1648.5 1750.4 1647.7 1752.2 1646.8 1754.1C1646.0 1755.9 1645.2 1757.7 1644.4 1759.6C1643.6 1761.4 1642.8 1763.3 1642.1 1765.1C1641.3 1767.0 1640.6 1768.8 1639.8 1770.7C1639.1 1772.6 1638.4 1774.5 1637.7 1776.3C1637.0 1778.2 1636.3 1780.1 1635.7 1782.0C1635.0 1783.9 1634.4 1785.8 1633.7 1787.7C1633.1 1789.6 1632.4 1791.5 1631.8 1793.4C1631.2 1795.3 1630.6 1797.2 1630.0 1799.1C1629.4 1801.1 1628.8 1803.0 1628.2 1804.9C1627.6 1806.8 1627.0 1808.8 1626.4 1810.7C1625.8 1812.6 1625.2 1814.5 1624.6 1816.5C1624.1 1818.4 1623.5 1820.3 1622.9 1822.2C1622.3 1824.2 1621.8 1826.1 1621.2 1828.0C1620.6 1830.0 1620.0 1831.9 1619.5 1833.8C1618.9 1835.8 1618.3 1837.7 1617.8 1839.7C1617.2 1841.6 1616.6 1843.5 1616.1 1845.5C1615.5 1847.4 1614.9 1849.3 1614.4 1851.3C1613.8 1853.2 1613.2 1855.1 1612.7 1857.1C1612.1 1859.0 1611.5 1861.0 1611.0 1862.9C1610.4 1864.8 1609.9 1866.8 1609.3 1868.7C1608.7 1870.6 1608.2 1872.6 1607.6 1874.5C1607.0 1876.4 1606.4 1878.4 1605.9 1880.3C1605.3 1882.2 1604.7 1884.2 1604.2 1886.1C1603.6 1888.0 1603.0 1890.0 1602.4 1891.9C1601.9 1893.8 1601.3 1895.8 1600.7 1897.7C1600.1 1899.6 1599.5 1901.5 1599.0 1903.5C1598.4 1905.4 1597.8 1907.3 1597.2 1909.2C1596.6 1911.2 1596.0 1913.1 1595.4 1915.0C1594.8 1916.9 1594.2 1918.8 1593.6 1920.8C1593.0 1922.7 1592.4 1924.6 1591.8 1926.5C1591.2 1928.4 1590.6 1930.3 1590.0 1932.2C1589.3 1934.1 1588.7 1936.0 1588.1 1937.9C1587.5 1939.8 1586.8 1941.7 1586.2 1943.6C1585.6 1945.5 1584.9 1947.4 1584.3 1949.3C1583.6 1951.2 1583.0 1953.1 1582.3 1955.0C1581.6 1956.9 1580.9 1958.7 1580.2 1960.6C1579.5 1962.5 1578.8 1964.4 1578.1 1966.2C1577.4 1968.1 1576.6 1970.0 1575.8 1971.8C1575.1 1973.7 1574.3 1975.5 1573.5 1977.3C1572.6 1979.2 1571.8 1981.0 1570.9 1982.9C1570.1 1984.7 1569.2 1986.5 1568.2 1988.3C1567.3 1990.1 1566.4 1991.9 1565.4 1993.7C1564.4 1995.5 1563.4 1997.3 1562.3 1999.1C1561.3 2000.9 1560.2 2002.7 1559.0 2004.4C1557.9 2006.1 1556.7 2007.8 1555.4 2009.4C1554.2 2011.0 1552.9 2012.5 1551.5 2014.0C1550.0 2015.4 1548.6 2016.7 1547.0 2017.9C1545.4 2019.0 1543.7 2020.1 1542.0 2020.9C1540.2 2021.8 1538.2 2022.5 1536.3 2023.0C1534.3 2023.4 1532.1 2023.8 1530.1 2023.7C1528.1 2023.7 1526.1 2023.4 1524.3 2022.8C1522.5 2022.2 1520.9 2021.2 1519.3 2020.1C1517.7 2019.1 1516.2 2017.7 1514.7 2016.3C1513.2 2015.0 1511.8 2013.4 1510.4 2011.9C1509.0 2010.4 1507.6 2008.7 1506.2 2007.2C1504.7 2005.7 1503.3 2004.2 1501.8 2002.7C1500.4 2001.2 1498.9 1999.8 1497.4 1998.4C1495.9 1997.1 1494.3 1995.7 1492.7 1994.5C1491.2 1993.2 1489.6 1992.0 1487.9 1990.9C1486.3 1989.8 1484.6 1988.8 1482.9 1987.8C1481.2 1986.9 1479.4 1986.0 1477.6 1985.3C1475.8 1984.6 1474.0 1983.9 1472.1 1983.4C1470.2 1982.9 1468.2 1982.4 1466.2 1982.2C1464.3 1981.9 1462.2 1981.7 1460.1 1981.7C1458.0 1981.7 1455.9 1981.8 1453.8 1982.0C1451.7 1982.2 1449.6 1982.5 1447.6 1982.9C1445.6 1983.3 1443.6 1983.7 1441.7 1984.3C1439.8 1984.9 1437.2 1985.9 1436.2 1986.2Z"/>
<path class="f" d="M1319.40 1183.00 H2150.05M2147.20 1183.00 V2116.00M1319.40 2100.00 H2147.20M1335.40 1183.00 V2116.00M1319.40 1335.83 H1335.40M1319.40 1488.67 H1335.40M1319.40 1641.50 H1335.40M1319.40 1794.33 H1335.40M1319.40 1947.17 H1335.40M1538.35 2100.00 V2116.00M1741.30 2100.00 V2116.00M1944.25 2100.00 V2116.00"/>
<text class="t" text-anchor="end" x="1290.2" y="1200.6">0.8</text>
<text class="t" text-anchor="end" x="1290.2" y="1353.4">0.4</text>
<text class="t" text-anchor="end" x="1290.2" y="1506.3">0</text>
<text class="t" text-anchor="end" x="1290.2" y="1659.1">-0.4</text>
<text class="t" text-anchor="end" x="1290.2" y="1811.9">-0.8</text>
<text class="t" text-anchor="end" x="1290.2" y="1964.8">-1.2</text>
<text class="t" text-anchor="end" x="1290.2" y="2117.6">-1.6</text>
<text class="t" text-anchor="middle" x="1335.4" y="2179.5">-1</text>
<text class="t" text-anchor="middle" x="1538.3" y="2179.5">-0.6</text>
<text class="t" text-anchor="middle" x="1741.3" y="2179.5">-0.2</text>
<text class="t" text-anchor="middle" x="1944.2" y="2179.5">0.2</text>
<text class="t" text-anchor="middle" x="2147.2" y="2179.5">0.6</text>
<text class="n" x="1354.2" y="1251.2">ACo6</text>
<text class="g" x="2053.5" y="2074.0">(d)</text>
<text class="bx" x="1583.7" y="2256.0" style="white-space:pre">E vs Ag/AgCl  (V)</text>
<text class="b" transform="translate(1183.0 1727.3) rotate(-90)">I (mA)</text>
</g>
</svg></body></html>
